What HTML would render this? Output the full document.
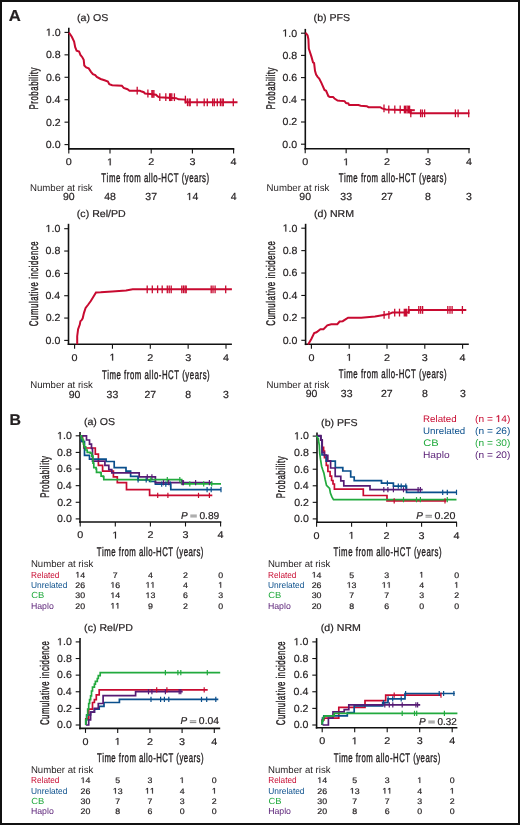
<!DOCTYPE html>
<html><head><meta charset="utf-8"><title>Figure</title>
<style>
html,body{margin:0;padding:0;background:#fff;}
svg{display:block;filter:blur(0.42px);}
svg text{font-family:"Liberation Sans",sans-serif;font-kerning:none;text-rendering:geometricPrecision;}
</style></head><body>
<svg width="520" height="825" viewBox="0 0 520 825">
<rect x="0" y="0" width="520" height="825" fill="#fff"/>
<text x="8.78" y="20.80" font-size="16" fill="#231f20" stroke="#231f20" stroke-width="0.2" font-weight="bold" textLength="12.06" lengthAdjust="spacingAndGlyphs">A</text>
<text x="9.44" y="425.20" font-size="15.5" fill="#231f20" stroke="#231f20" stroke-width="0.2" font-weight="bold" textLength="11.49" lengthAdjust="spacingAndGlyphs">B</text>
<line x1="68.80" y1="27.80" x2="68.80" y2="149.70" stroke="#111" stroke-width="1.6"/>
<line x1="68.00" y1="148.90" x2="234.30" y2="148.90" stroke="#111" stroke-width="1.6"/>
<line x1="64.50" y1="144.60" x2="68.80" y2="144.60" stroke="#111" stroke-width="1.1"/>
<text x="45.87" y="147.95" font-size="10.3" fill="#231f20" stroke="#231f20" stroke-width="0.2" textLength="14.75" lengthAdjust="spacingAndGlyphs">0.0</text>
<line x1="64.50" y1="122.16" x2="68.80" y2="122.16" stroke="#111" stroke-width="1.1"/>
<text x="45.99" y="125.51" font-size="10.3" fill="#231f20" stroke="#231f20" stroke-width="0.2" textLength="14.75" lengthAdjust="spacingAndGlyphs">0.2</text>
<line x1="64.50" y1="99.72" x2="68.80" y2="99.72" stroke="#111" stroke-width="1.1"/>
<text x="45.76" y="103.07" font-size="10.3" fill="#231f20" stroke="#231f20" stroke-width="0.2" textLength="14.75" lengthAdjust="spacingAndGlyphs">0.4</text>
<line x1="64.50" y1="77.28" x2="68.80" y2="77.28" stroke="#111" stroke-width="1.1"/>
<text x="45.92" y="80.63" font-size="10.3" fill="#231f20" stroke="#231f20" stroke-width="0.2" textLength="14.75" lengthAdjust="spacingAndGlyphs">0.6</text>
<line x1="64.50" y1="54.84" x2="68.80" y2="54.84" stroke="#111" stroke-width="1.1"/>
<text x="45.91" y="58.19" font-size="10.3" fill="#231f20" stroke="#231f20" stroke-width="0.2" textLength="14.75" lengthAdjust="spacingAndGlyphs">0.8</text>
<line x1="64.50" y1="32.40" x2="68.80" y2="32.40" stroke="#111" stroke-width="1.1"/>
<text x="45.87" y="35.75" font-size="10.3" fill="#231f20" stroke="#231f20" stroke-width="0.2" textLength="14.75" lengthAdjust="spacingAndGlyphs"> .0</text>
<path transform="translate(45.87,35.75) scale(0.00518,-0.00503)" d="M515,0L515,1237L197,1010L197,1180L530,1409L696,1409L696,0Z" fill="#231f20" stroke="#231f20" stroke-width="39.8"/>
<line x1="68.80" y1="148.90" x2="68.80" y2="153.40" stroke="#111" stroke-width="1.1"/>
<text x="65.80" y="165.30" font-size="9.8" fill="#231f20" stroke="#231f20" stroke-width="0.2" textLength="6.00" lengthAdjust="spacingAndGlyphs">0</text>
<line x1="110.00" y1="148.90" x2="110.00" y2="153.40" stroke="#111" stroke-width="1.1"/>
<text x="107.00" y="165.30" font-size="9.8" fill="#231f20" stroke="#231f20" stroke-width="0.2" textLength="6.00" lengthAdjust="spacingAndGlyphs"> </text>
<path transform="translate(107.00,165.30) scale(0.00526,-0.00479)" d="M515,0L515,1237L197,1010L197,1180L530,1409L696,1409L696,0Z" fill="#231f20" stroke="#231f20" stroke-width="41.8"/>
<line x1="151.20" y1="148.90" x2="151.20" y2="153.40" stroke="#111" stroke-width="1.1"/>
<text x="148.20" y="165.30" font-size="9.8" fill="#231f20" stroke="#231f20" stroke-width="0.2" textLength="6.00" lengthAdjust="spacingAndGlyphs">2</text>
<line x1="192.40" y1="148.90" x2="192.40" y2="153.40" stroke="#111" stroke-width="1.1"/>
<text x="189.40" y="165.30" font-size="9.8" fill="#231f20" stroke="#231f20" stroke-width="0.2" textLength="6.00" lengthAdjust="spacingAndGlyphs">3</text>
<line x1="233.60" y1="148.90" x2="233.60" y2="153.40" stroke="#111" stroke-width="1.1"/>
<text x="230.60" y="165.30" font-size="9.8" fill="#231f20" stroke="#231f20" stroke-width="0.2" textLength="6.00" lengthAdjust="spacingAndGlyphs">4</text>
<line x1="305.30" y1="28.90" x2="305.30" y2="149.60" stroke="#111" stroke-width="1.6"/>
<line x1="304.50" y1="148.80" x2="469.80" y2="148.80" stroke="#111" stroke-width="1.6"/>
<line x1="301.00" y1="144.20" x2="305.30" y2="144.20" stroke="#111" stroke-width="1.1"/>
<text x="282.37" y="147.55" font-size="10.3" fill="#231f20" stroke="#231f20" stroke-width="0.2" textLength="14.75" lengthAdjust="spacingAndGlyphs">0.0</text>
<line x1="301.00" y1="122.00" x2="305.30" y2="122.00" stroke="#111" stroke-width="1.1"/>
<text x="282.49" y="125.35" font-size="10.3" fill="#231f20" stroke="#231f20" stroke-width="0.2" textLength="14.75" lengthAdjust="spacingAndGlyphs">0.2</text>
<line x1="301.00" y1="99.80" x2="305.30" y2="99.80" stroke="#111" stroke-width="1.1"/>
<text x="282.26" y="103.15" font-size="10.3" fill="#231f20" stroke="#231f20" stroke-width="0.2" textLength="14.75" lengthAdjust="spacingAndGlyphs">0.4</text>
<line x1="301.00" y1="77.60" x2="305.30" y2="77.60" stroke="#111" stroke-width="1.1"/>
<text x="282.42" y="80.95" font-size="10.3" fill="#231f20" stroke="#231f20" stroke-width="0.2" textLength="14.75" lengthAdjust="spacingAndGlyphs">0.6</text>
<line x1="301.00" y1="55.40" x2="305.30" y2="55.40" stroke="#111" stroke-width="1.1"/>
<text x="282.41" y="58.75" font-size="10.3" fill="#231f20" stroke="#231f20" stroke-width="0.2" textLength="14.75" lengthAdjust="spacingAndGlyphs">0.8</text>
<line x1="301.00" y1="33.20" x2="305.30" y2="33.20" stroke="#111" stroke-width="1.1"/>
<text x="282.37" y="36.55" font-size="10.3" fill="#231f20" stroke="#231f20" stroke-width="0.2" textLength="14.75" lengthAdjust="spacingAndGlyphs"> .0</text>
<path transform="translate(282.37,36.55) scale(0.00518,-0.00503)" d="M515,0L515,1237L197,1010L197,1180L530,1409L696,1409L696,0Z" fill="#231f20" stroke="#231f20" stroke-width="39.8"/>
<line x1="305.20" y1="148.80" x2="305.20" y2="153.30" stroke="#111" stroke-width="1.1"/>
<text x="302.20" y="165.20" font-size="9.8" fill="#231f20" stroke="#231f20" stroke-width="0.2" textLength="6.00" lengthAdjust="spacingAndGlyphs">0</text>
<line x1="346.15" y1="148.80" x2="346.15" y2="153.30" stroke="#111" stroke-width="1.1"/>
<text x="343.15" y="165.20" font-size="9.8" fill="#231f20" stroke="#231f20" stroke-width="0.2" textLength="6.00" lengthAdjust="spacingAndGlyphs"> </text>
<path transform="translate(343.15,165.20) scale(0.00526,-0.00479)" d="M515,0L515,1237L197,1010L197,1180L530,1409L696,1409L696,0Z" fill="#231f20" stroke="#231f20" stroke-width="41.8"/>
<line x1="387.10" y1="148.80" x2="387.10" y2="153.30" stroke="#111" stroke-width="1.1"/>
<text x="384.10" y="165.20" font-size="9.8" fill="#231f20" stroke="#231f20" stroke-width="0.2" textLength="6.00" lengthAdjust="spacingAndGlyphs">2</text>
<line x1="428.05" y1="148.80" x2="428.05" y2="153.30" stroke="#111" stroke-width="1.1"/>
<text x="425.05" y="165.20" font-size="9.8" fill="#231f20" stroke="#231f20" stroke-width="0.2" textLength="6.00" lengthAdjust="spacingAndGlyphs">3</text>
<line x1="469.00" y1="148.80" x2="469.00" y2="153.30" stroke="#111" stroke-width="1.1"/>
<text x="466.00" y="165.20" font-size="9.8" fill="#231f20" stroke="#231f20" stroke-width="0.2" textLength="6.00" lengthAdjust="spacingAndGlyphs">4</text>
<line x1="68.50" y1="223.80" x2="68.50" y2="345.00" stroke="#111" stroke-width="1.6"/>
<line x1="67.70" y1="344.20" x2="231.90" y2="344.20" stroke="#111" stroke-width="1.6"/>
<line x1="64.20" y1="340.40" x2="68.50" y2="340.40" stroke="#111" stroke-width="1.1"/>
<text x="45.57" y="343.75" font-size="10.3" fill="#231f20" stroke="#231f20" stroke-width="0.2" textLength="14.75" lengthAdjust="spacingAndGlyphs">0.0</text>
<line x1="64.20" y1="318.06" x2="68.50" y2="318.06" stroke="#111" stroke-width="1.1"/>
<text x="45.69" y="321.41" font-size="10.3" fill="#231f20" stroke="#231f20" stroke-width="0.2" textLength="14.75" lengthAdjust="spacingAndGlyphs">0.2</text>
<line x1="64.20" y1="295.72" x2="68.50" y2="295.72" stroke="#111" stroke-width="1.1"/>
<text x="45.46" y="299.07" font-size="10.3" fill="#231f20" stroke="#231f20" stroke-width="0.2" textLength="14.75" lengthAdjust="spacingAndGlyphs">0.4</text>
<line x1="64.20" y1="273.38" x2="68.50" y2="273.38" stroke="#111" stroke-width="1.1"/>
<text x="45.62" y="276.73" font-size="10.3" fill="#231f20" stroke="#231f20" stroke-width="0.2" textLength="14.75" lengthAdjust="spacingAndGlyphs">0.6</text>
<line x1="64.20" y1="251.04" x2="68.50" y2="251.04" stroke="#111" stroke-width="1.1"/>
<text x="45.61" y="254.39" font-size="10.3" fill="#231f20" stroke="#231f20" stroke-width="0.2" textLength="14.75" lengthAdjust="spacingAndGlyphs">0.8</text>
<line x1="64.20" y1="228.70" x2="68.50" y2="228.70" stroke="#111" stroke-width="1.1"/>
<text x="45.57" y="232.05" font-size="10.3" fill="#231f20" stroke="#231f20" stroke-width="0.2" textLength="14.75" lengthAdjust="spacingAndGlyphs"> .0</text>
<path transform="translate(45.57,232.05) scale(0.00518,-0.00503)" d="M515,0L515,1237L197,1010L197,1180L530,1409L696,1409L696,0Z" fill="#231f20" stroke="#231f20" stroke-width="39.8"/>
<line x1="74.60" y1="344.20" x2="74.60" y2="348.70" stroke="#111" stroke-width="1.1"/>
<text x="71.60" y="360.60" font-size="9.8" fill="#231f20" stroke="#231f20" stroke-width="0.2" textLength="6.00" lengthAdjust="spacingAndGlyphs">0</text>
<line x1="112.45" y1="344.20" x2="112.45" y2="348.70" stroke="#111" stroke-width="1.1"/>
<text x="109.45" y="360.60" font-size="9.8" fill="#231f20" stroke="#231f20" stroke-width="0.2" textLength="6.00" lengthAdjust="spacingAndGlyphs"> </text>
<path transform="translate(109.45,360.60) scale(0.00526,-0.00479)" d="M515,0L515,1237L197,1010L197,1180L530,1409L696,1409L696,0Z" fill="#231f20" stroke="#231f20" stroke-width="41.8"/>
<line x1="150.30" y1="344.20" x2="150.30" y2="348.70" stroke="#111" stroke-width="1.1"/>
<text x="147.30" y="360.60" font-size="9.8" fill="#231f20" stroke="#231f20" stroke-width="0.2" textLength="6.00" lengthAdjust="spacingAndGlyphs">2</text>
<line x1="188.15" y1="344.20" x2="188.15" y2="348.70" stroke="#111" stroke-width="1.1"/>
<text x="185.15" y="360.60" font-size="9.8" fill="#231f20" stroke="#231f20" stroke-width="0.2" textLength="6.00" lengthAdjust="spacingAndGlyphs">3</text>
<line x1="226.00" y1="344.20" x2="226.00" y2="348.70" stroke="#111" stroke-width="1.1"/>
<text x="223.00" y="360.60" font-size="9.8" fill="#231f20" stroke="#231f20" stroke-width="0.2" textLength="6.00" lengthAdjust="spacingAndGlyphs">4</text>
<line x1="305.60" y1="223.80" x2="305.60" y2="345.10" stroke="#111" stroke-width="1.6"/>
<line x1="304.80" y1="344.30" x2="468.80" y2="344.30" stroke="#111" stroke-width="1.6"/>
<line x1="301.30" y1="340.30" x2="305.60" y2="340.30" stroke="#111" stroke-width="1.1"/>
<text x="282.67" y="343.65" font-size="10.3" fill="#231f20" stroke="#231f20" stroke-width="0.2" textLength="14.75" lengthAdjust="spacingAndGlyphs">0.0</text>
<line x1="301.30" y1="317.88" x2="305.60" y2="317.88" stroke="#111" stroke-width="1.1"/>
<text x="282.79" y="321.23" font-size="10.3" fill="#231f20" stroke="#231f20" stroke-width="0.2" textLength="14.75" lengthAdjust="spacingAndGlyphs">0.2</text>
<line x1="301.30" y1="295.46" x2="305.60" y2="295.46" stroke="#111" stroke-width="1.1"/>
<text x="282.56" y="298.81" font-size="10.3" fill="#231f20" stroke="#231f20" stroke-width="0.2" textLength="14.75" lengthAdjust="spacingAndGlyphs">0.4</text>
<line x1="301.30" y1="273.04" x2="305.60" y2="273.04" stroke="#111" stroke-width="1.1"/>
<text x="282.72" y="276.39" font-size="10.3" fill="#231f20" stroke="#231f20" stroke-width="0.2" textLength="14.75" lengthAdjust="spacingAndGlyphs">0.6</text>
<line x1="301.30" y1="250.62" x2="305.60" y2="250.62" stroke="#111" stroke-width="1.1"/>
<text x="282.71" y="253.97" font-size="10.3" fill="#231f20" stroke="#231f20" stroke-width="0.2" textLength="14.75" lengthAdjust="spacingAndGlyphs">0.8</text>
<line x1="301.30" y1="228.20" x2="305.60" y2="228.20" stroke="#111" stroke-width="1.1"/>
<text x="282.67" y="231.55" font-size="10.3" fill="#231f20" stroke="#231f20" stroke-width="0.2" textLength="14.75" lengthAdjust="spacingAndGlyphs"> .0</text>
<path transform="translate(282.67,231.55) scale(0.00518,-0.00503)" d="M515,0L515,1237L197,1010L197,1180L530,1409L696,1409L696,0Z" fill="#231f20" stroke="#231f20" stroke-width="39.8"/>
<line x1="311.40" y1="344.30" x2="311.40" y2="348.80" stroke="#111" stroke-width="1.1"/>
<text x="308.40" y="360.70" font-size="9.8" fill="#231f20" stroke="#231f20" stroke-width="0.2" textLength="6.00" lengthAdjust="spacingAndGlyphs">0</text>
<line x1="349.20" y1="344.30" x2="349.20" y2="348.80" stroke="#111" stroke-width="1.1"/>
<text x="346.20" y="360.70" font-size="9.8" fill="#231f20" stroke="#231f20" stroke-width="0.2" textLength="6.00" lengthAdjust="spacingAndGlyphs"> </text>
<path transform="translate(346.20,360.70) scale(0.00526,-0.00479)" d="M515,0L515,1237L197,1010L197,1180L530,1409L696,1409L696,0Z" fill="#231f20" stroke="#231f20" stroke-width="41.8"/>
<line x1="387.00" y1="344.30" x2="387.00" y2="348.80" stroke="#111" stroke-width="1.1"/>
<text x="384.00" y="360.70" font-size="9.8" fill="#231f20" stroke="#231f20" stroke-width="0.2" textLength="6.00" lengthAdjust="spacingAndGlyphs">2</text>
<line x1="424.80" y1="344.30" x2="424.80" y2="348.80" stroke="#111" stroke-width="1.1"/>
<text x="421.80" y="360.70" font-size="9.8" fill="#231f20" stroke="#231f20" stroke-width="0.2" textLength="6.00" lengthAdjust="spacingAndGlyphs">3</text>
<line x1="462.60" y1="344.30" x2="462.60" y2="348.80" stroke="#111" stroke-width="1.1"/>
<text x="459.60" y="360.70" font-size="9.8" fill="#231f20" stroke="#231f20" stroke-width="0.2" textLength="6.00" lengthAdjust="spacingAndGlyphs">4</text>
<text x="77.04" y="21.00" font-size="10" fill="#231f20" stroke="#231f20" stroke-width="0.2" textLength="31.22" lengthAdjust="spacingAndGlyphs">(a) OS</text>
<text x="313.64" y="21.20" font-size="10" fill="#231f20" stroke="#231f20" stroke-width="0.2" textLength="36.52" lengthAdjust="spacingAndGlyphs">(b) PFS</text>
<text x="76.84" y="216.70" font-size="10" fill="#231f20" stroke="#231f20" stroke-width="0.2" textLength="48.88" lengthAdjust="spacingAndGlyphs">(c) Rel/PD</text>
<text x="314.04" y="216.90" font-size="10" fill="#231f20" stroke="#231f20" stroke-width="0.2" textLength="40.04" lengthAdjust="spacingAndGlyphs">(d) NRM</text>
<text transform="translate(101.32,182.30) scale(0.62,1)" x="0" y="0" font-size="12.6" fill="#231f20" stroke="#231f20" stroke-width="0.4" textLength="173.82" lengthAdjust="spacing">Time from allo-HCT (years)</text>
<text transform="translate(338.72,182.30) scale(0.62,1)" x="0" y="0" font-size="12.6" fill="#231f20" stroke="#231f20" stroke-width="0.4" textLength="173.82" lengthAdjust="spacing">Time from allo-HCT (years)</text>
<text transform="translate(101.92,378.60) scale(0.62,1)" x="0" y="0" font-size="12.6" fill="#231f20" stroke="#231f20" stroke-width="0.4" textLength="173.82" lengthAdjust="spacing">Time from allo-HCT (years)</text>
<text transform="translate(338.72,377.90) scale(0.62,1)" x="0" y="0" font-size="12.6" fill="#231f20" stroke="#231f20" stroke-width="0.4" textLength="173.82" lengthAdjust="spacing">Time from allo-HCT (years)</text>
<text transform="translate(37.60,109.39) rotate(-90) scale(0.62,1)" x="0" y="0" font-size="12.6" fill="#231f20" stroke="#231f20" stroke-width="0.4" textLength="67.49" lengthAdjust="spacing">Probability</text>
<text transform="translate(274.60,109.49) rotate(-90) scale(0.62,1)" x="0" y="0" font-size="12.6" fill="#231f20" stroke="#231f20" stroke-width="0.4" textLength="67.49" lengthAdjust="spacing">Probability</text>
<text transform="translate(37.70,326.15) rotate(-90) scale(0.62,1)" x="0" y="0" font-size="12.6" fill="#231f20" stroke="#231f20" stroke-width="0.4" textLength="136.73" lengthAdjust="spacing">Cumulative incidence</text>
<text transform="translate(274.50,325.75) rotate(-90) scale(0.62,1)" x="0" y="0" font-size="12.6" fill="#231f20" stroke="#231f20" stroke-width="0.4" textLength="136.39" lengthAdjust="spacing">Cumulative incidence</text>
<text x="30.01" y="190.60" font-size="9.8" fill="#231f20" textLength="62.68" lengthAdjust="spacingAndGlyphs">Number at risk</text>
<text x="266.61" y="190.60" font-size="9.8" fill="#231f20" textLength="62.68" lengthAdjust="spacingAndGlyphs">Number at risk</text>
<text x="30.21" y="388.10" font-size="9.8" fill="#231f20" textLength="62.68" lengthAdjust="spacingAndGlyphs">Number at risk</text>
<text x="266.61" y="387.50" font-size="9.8" fill="#231f20" textLength="62.68" lengthAdjust="spacingAndGlyphs">Number at risk</text>
<text x="62.96" y="200.00" font-size="10.3" fill="#231f20" stroke="#231f20" stroke-width="0.2" textLength="11.69" lengthAdjust="spacingAndGlyphs">90</text>
<text x="104.16" y="200.00" font-size="10.3" fill="#231f20" stroke="#231f20" stroke-width="0.2" textLength="11.69" lengthAdjust="spacingAndGlyphs">48</text>
<text x="145.36" y="200.00" font-size="10.3" fill="#231f20" stroke="#231f20" stroke-width="0.2" textLength="11.69" lengthAdjust="spacingAndGlyphs">37</text>
<text x="186.56" y="200.00" font-size="10.3" fill="#231f20" stroke="#231f20" stroke-width="0.2" textLength="11.69" lengthAdjust="spacingAndGlyphs"> 4</text>
<path transform="translate(186.56,200.00) scale(0.00513,-0.00503)" d="M515,0L515,1237L197,1010L197,1180L530,1409L696,1409L696,0Z" fill="#231f20" stroke="#231f20" stroke-width="39.8"/>
<text x="230.68" y="200.00" font-size="10.3" fill="#231f20" stroke="#231f20" stroke-width="0.2" textLength="5.84" lengthAdjust="spacingAndGlyphs">4</text>
<text x="299.36" y="200.00" font-size="10.3" fill="#231f20" stroke="#231f20" stroke-width="0.2" textLength="11.69" lengthAdjust="spacingAndGlyphs">90</text>
<text x="340.31" y="200.00" font-size="10.3" fill="#231f20" stroke="#231f20" stroke-width="0.2" textLength="11.69" lengthAdjust="spacingAndGlyphs">33</text>
<text x="381.26" y="200.00" font-size="10.3" fill="#231f20" stroke="#231f20" stroke-width="0.2" textLength="11.69" lengthAdjust="spacingAndGlyphs">27</text>
<text x="425.13" y="200.00" font-size="10.3" fill="#231f20" stroke="#231f20" stroke-width="0.2" textLength="5.84" lengthAdjust="spacingAndGlyphs">8</text>
<text x="466.08" y="200.00" font-size="10.3" fill="#231f20" stroke="#231f20" stroke-width="0.2" textLength="5.84" lengthAdjust="spacingAndGlyphs">3</text>
<text x="68.76" y="397.70" font-size="10.3" fill="#231f20" stroke="#231f20" stroke-width="0.2" textLength="11.69" lengthAdjust="spacingAndGlyphs">90</text>
<text x="106.61" y="397.70" font-size="10.3" fill="#231f20" stroke="#231f20" stroke-width="0.2" textLength="11.69" lengthAdjust="spacingAndGlyphs">33</text>
<text x="144.46" y="397.70" font-size="10.3" fill="#231f20" stroke="#231f20" stroke-width="0.2" textLength="11.69" lengthAdjust="spacingAndGlyphs">27</text>
<text x="185.23" y="397.70" font-size="10.3" fill="#231f20" stroke="#231f20" stroke-width="0.2" textLength="5.84" lengthAdjust="spacingAndGlyphs">8</text>
<text x="223.08" y="397.70" font-size="10.3" fill="#231f20" stroke="#231f20" stroke-width="0.2" textLength="5.84" lengthAdjust="spacingAndGlyphs">3</text>
<text x="305.76" y="397.00" font-size="10.3" fill="#231f20" stroke="#231f20" stroke-width="0.2" textLength="11.69" lengthAdjust="spacingAndGlyphs">90</text>
<text x="340.86" y="397.00" font-size="10.3" fill="#231f20" stroke="#231f20" stroke-width="0.2" textLength="11.69" lengthAdjust="spacingAndGlyphs">33</text>
<text x="380.96" y="397.00" font-size="10.3" fill="#231f20" stroke="#231f20" stroke-width="0.2" textLength="11.69" lengthAdjust="spacingAndGlyphs">27</text>
<text x="421.98" y="397.00" font-size="10.3" fill="#231f20" stroke="#231f20" stroke-width="0.2" textLength="5.84" lengthAdjust="spacingAndGlyphs">8</text>
<text x="459.98" y="397.00" font-size="10.3" fill="#231f20" stroke="#231f20" stroke-width="0.2" textLength="5.84" lengthAdjust="spacingAndGlyphs">3</text>
<polyline points="68.80,32.60 69.50,33.40 71.80,36.70 74.10,41.50 75.20,47.20 76.60,50.70 79.10,51.50 80.40,54.90 82.30,57.20 83.70,59.70 84.30,65.50 86.20,67.40 88.70,68.40 91.00,71.80 92.90,74.20 95.20,75.10 96.80,77.00 100.60,79.00 104.50,80.30 107.90,81.50 109.30,84.20 112.20,85.30 121.80,85.70 123.70,88.00 127.50,89.20 129.50,90.70 139.80,90.70 141.00,91.20 143.80,92.20 145.00,93.50 150.20,93.90 156.00,94.70 157.70,96.40 159.40,97.20 176.20,98.20 178.50,99.30 185.40,99.60 185.60,102.30 237.50,102.30" fill="none" stroke="#c80a30" stroke-width="2.0" stroke-linejoin="miter" stroke-linecap="butt"/>
<line x1="137.20" y1="86.80" x2="137.20" y2="94.60" stroke="#c80a30" stroke-width="1.3"/>
<line x1="147.90" y1="89.60" x2="147.90" y2="97.40" stroke="#c80a30" stroke-width="1.3"/>
<line x1="151.90" y1="90.00" x2="151.90" y2="97.80" stroke="#c80a30" stroke-width="1.3"/>
<line x1="152.80" y1="90.00" x2="152.80" y2="97.80" stroke="#c80a30" stroke-width="1.3"/>
<line x1="153.90" y1="90.00" x2="153.90" y2="97.80" stroke="#c80a30" stroke-width="1.3"/>
<line x1="159.80" y1="93.30" x2="159.80" y2="101.10" stroke="#c80a30" stroke-width="1.3"/>
<line x1="165.80" y1="93.30" x2="165.80" y2="101.10" stroke="#c80a30" stroke-width="1.3"/>
<line x1="169.60" y1="93.30" x2="169.60" y2="101.10" stroke="#c80a30" stroke-width="1.3"/>
<line x1="170.60" y1="93.30" x2="170.60" y2="101.10" stroke="#c80a30" stroke-width="1.3"/>
<line x1="171.80" y1="93.30" x2="171.80" y2="101.10" stroke="#c80a30" stroke-width="1.3"/>
<line x1="174.40" y1="93.30" x2="174.40" y2="101.10" stroke="#c80a30" stroke-width="1.3"/>
<line x1="185.40" y1="95.70" x2="185.40" y2="103.50" stroke="#c80a30" stroke-width="1.3"/>
<line x1="187.50" y1="98.40" x2="187.50" y2="106.20" stroke="#c80a30" stroke-width="1.3"/>
<line x1="189.20" y1="98.40" x2="189.20" y2="106.20" stroke="#c80a30" stroke-width="1.3"/>
<line x1="190.20" y1="98.40" x2="190.20" y2="106.20" stroke="#c80a30" stroke-width="1.3"/>
<line x1="197.10" y1="98.40" x2="197.10" y2="106.20" stroke="#c80a30" stroke-width="1.3"/>
<line x1="204.20" y1="98.40" x2="204.20" y2="106.20" stroke="#c80a30" stroke-width="1.3"/>
<line x1="207.30" y1="98.40" x2="207.30" y2="106.20" stroke="#c80a30" stroke-width="1.3"/>
<line x1="212.70" y1="98.40" x2="212.70" y2="106.20" stroke="#c80a30" stroke-width="1.3"/>
<line x1="214.30" y1="98.40" x2="214.30" y2="106.20" stroke="#c80a30" stroke-width="1.3"/>
<line x1="217.30" y1="98.40" x2="217.30" y2="106.20" stroke="#c80a30" stroke-width="1.3"/>
<line x1="220.40" y1="98.40" x2="220.40" y2="106.20" stroke="#c80a30" stroke-width="1.3"/>
<line x1="222.10" y1="98.40" x2="222.10" y2="106.20" stroke="#c80a30" stroke-width="1.3"/>
<line x1="223.30" y1="98.40" x2="223.30" y2="106.20" stroke="#c80a30" stroke-width="1.3"/>
<line x1="233.30" y1="98.40" x2="233.30" y2="106.20" stroke="#c80a30" stroke-width="1.3"/>
<polyline points="305.30,33.20 306.10,33.40 307.60,35.40 308.40,39.20 308.80,48.50 311.50,56.90 313.00,62.30 314.10,63.10 315.00,70.80 316.10,74.60 317.60,76.90 319.20,78.50 321.50,83.10 324.50,90.00 326.10,90.80 328.40,96.20 329.90,96.90 333.00,96.90 334.50,98.50 337.60,100.50 339.90,100.80 344.50,101.10 346.10,103.10 348.40,103.50 349.20,105.10 358.40,105.10 360.70,105.70 366.80,106.20 368.40,107.20 380.20,107.20 382.00,108.40 386.00,109.50 410.60,110.20 410.80,113.30 469.50,113.30" fill="none" stroke="#c80a30" stroke-width="2.0" stroke-linejoin="miter" stroke-linecap="butt"/>
<line x1="409.00" y1="110.20" x2="414.80" y2="110.20" stroke="#c80a30" stroke-width="2.0"/>
<line x1="384.00" y1="104.50" x2="384.00" y2="112.30" stroke="#c80a30" stroke-width="1.3"/>
<line x1="388.80" y1="105.60" x2="388.80" y2="113.40" stroke="#c80a30" stroke-width="1.3"/>
<line x1="394.80" y1="105.60" x2="394.80" y2="113.40" stroke="#c80a30" stroke-width="1.3"/>
<line x1="400.20" y1="105.60" x2="400.20" y2="113.40" stroke="#c80a30" stroke-width="1.3"/>
<line x1="404.40" y1="105.60" x2="404.40" y2="113.40" stroke="#c80a30" stroke-width="1.3"/>
<line x1="405.60" y1="105.60" x2="405.60" y2="113.40" stroke="#c80a30" stroke-width="1.3"/>
<line x1="407.10" y1="105.60" x2="407.10" y2="113.40" stroke="#c80a30" stroke-width="1.3"/>
<line x1="408.50" y1="105.60" x2="408.50" y2="113.40" stroke="#c80a30" stroke-width="1.3"/>
<line x1="409.60" y1="105.60" x2="409.60" y2="113.40" stroke="#c80a30" stroke-width="1.3"/>
<line x1="410.80" y1="109.40" x2="410.80" y2="117.20" stroke="#c80a30" stroke-width="1.3"/>
<line x1="420.60" y1="109.40" x2="420.60" y2="117.20" stroke="#c80a30" stroke-width="1.3"/>
<line x1="422.30" y1="109.40" x2="422.30" y2="117.20" stroke="#c80a30" stroke-width="1.3"/>
<line x1="424.60" y1="109.40" x2="424.60" y2="117.20" stroke="#c80a30" stroke-width="1.3"/>
<line x1="455.40" y1="109.40" x2="455.40" y2="117.20" stroke="#c80a30" stroke-width="1.3"/>
<line x1="458.10" y1="109.40" x2="458.10" y2="117.20" stroke="#c80a30" stroke-width="1.3"/>
<line x1="468.70" y1="109.40" x2="468.70" y2="117.20" stroke="#c80a30" stroke-width="1.3"/>
<polyline points="77.20,344.20 77.20,336.20 78.10,329.20 79.80,324.60 80.40,321.20 81.60,320.20 82.70,318.30 83.90,313.10 85.60,307.90 87.90,305.00 90.80,301.00 93.70,296.30 96.00,292.50 100.60,292.30 112.20,291.40 126.00,290.60 132.70,289.30 231.90,289.30" fill="none" stroke="#c80a30" stroke-width="2.0" stroke-linejoin="miter" stroke-linecap="butt"/>
<line x1="147.20" y1="285.40" x2="147.20" y2="293.20" stroke="#c80a30" stroke-width="1.3"/>
<line x1="152.30" y1="285.40" x2="152.30" y2="293.20" stroke="#c80a30" stroke-width="1.3"/>
<line x1="157.60" y1="285.40" x2="157.60" y2="293.20" stroke="#c80a30" stroke-width="1.3"/>
<line x1="162.20" y1="285.40" x2="162.20" y2="293.20" stroke="#c80a30" stroke-width="1.3"/>
<line x1="167.30" y1="285.40" x2="167.30" y2="293.20" stroke="#c80a30" stroke-width="1.3"/>
<line x1="169.20" y1="285.40" x2="169.20" y2="293.20" stroke="#c80a30" stroke-width="1.3"/>
<line x1="171.20" y1="285.40" x2="171.20" y2="293.20" stroke="#c80a30" stroke-width="1.3"/>
<line x1="181.80" y1="285.40" x2="181.80" y2="293.20" stroke="#c80a30" stroke-width="1.3"/>
<line x1="183.50" y1="285.40" x2="183.50" y2="293.20" stroke="#c80a30" stroke-width="1.3"/>
<line x1="185.10" y1="285.40" x2="185.10" y2="293.20" stroke="#c80a30" stroke-width="1.3"/>
<line x1="186.20" y1="285.40" x2="186.20" y2="293.20" stroke="#c80a30" stroke-width="1.3"/>
<line x1="211.20" y1="285.40" x2="211.20" y2="293.20" stroke="#c80a30" stroke-width="1.3"/>
<line x1="213.00" y1="285.40" x2="213.00" y2="293.20" stroke="#c80a30" stroke-width="1.3"/>
<line x1="215.10" y1="285.40" x2="215.10" y2="293.20" stroke="#c80a30" stroke-width="1.3"/>
<line x1="225.70" y1="285.40" x2="225.70" y2="293.20" stroke="#c80a30" stroke-width="1.3"/>
<polyline points="308.10,344.40 311.20,339.20 314.20,333.10 316.50,332.30 320.40,329.20 323.50,329.20 327.30,325.40 331.20,324.20 337.30,324.20 339.60,321.50 342.70,321.20 348.10,317.70 361.20,317.70 375.00,316.40 383.70,314.90 389.40,313.90 392.30,312.60 408.70,312.50 408.80,309.90 466.30,309.90" fill="none" stroke="#c80a30" stroke-width="2.0" stroke-linejoin="miter" stroke-linecap="butt"/>
<line x1="384.10" y1="311.00" x2="384.10" y2="318.80" stroke="#c80a30" stroke-width="1.3"/>
<line x1="388.90" y1="311.00" x2="388.90" y2="318.80" stroke="#c80a30" stroke-width="1.3"/>
<line x1="394.70" y1="308.70" x2="394.70" y2="316.50" stroke="#c80a30" stroke-width="1.3"/>
<line x1="399.50" y1="308.70" x2="399.50" y2="316.50" stroke="#c80a30" stroke-width="1.3"/>
<line x1="404.30" y1="308.70" x2="404.30" y2="316.50" stroke="#c80a30" stroke-width="1.3"/>
<line x1="405.60" y1="308.70" x2="405.60" y2="316.50" stroke="#c80a30" stroke-width="1.3"/>
<line x1="406.70" y1="308.70" x2="406.70" y2="316.50" stroke="#c80a30" stroke-width="1.3"/>
<line x1="408.80" y1="306.00" x2="408.80" y2="313.80" stroke="#c80a30" stroke-width="1.3"/>
<line x1="418.80" y1="306.00" x2="418.80" y2="313.80" stroke="#c80a30" stroke-width="1.3"/>
<line x1="420.70" y1="306.00" x2="420.70" y2="313.80" stroke="#c80a30" stroke-width="1.3"/>
<line x1="422.60" y1="306.00" x2="422.60" y2="313.80" stroke="#c80a30" stroke-width="1.3"/>
<line x1="447.80" y1="306.00" x2="447.80" y2="313.80" stroke="#c80a30" stroke-width="1.3"/>
<line x1="450.00" y1="306.00" x2="450.00" y2="313.80" stroke="#c80a30" stroke-width="1.3"/>
<line x1="452.10" y1="306.00" x2="452.10" y2="313.80" stroke="#c80a30" stroke-width="1.3"/>
<line x1="462.40" y1="306.00" x2="462.40" y2="313.80" stroke="#c80a30" stroke-width="1.3"/>
<line x1="80.00" y1="432.00" x2="80.00" y2="522.80" stroke="#111" stroke-width="1.6"/>
<line x1="79.20" y1="522.00" x2="221.30" y2="522.00" stroke="#111" stroke-width="1.6"/>
<line x1="75.70" y1="518.90" x2="80.00" y2="518.90" stroke="#111" stroke-width="1.1"/>
<text x="57.07" y="522.25" font-size="10.3" fill="#231f20" stroke="#231f20" stroke-width="0.2" textLength="14.75" lengthAdjust="spacingAndGlyphs">0.0</text>
<line x1="75.70" y1="502.28" x2="80.00" y2="502.28" stroke="#111" stroke-width="1.1"/>
<text x="57.19" y="505.63" font-size="10.3" fill="#231f20" stroke="#231f20" stroke-width="0.2" textLength="14.75" lengthAdjust="spacingAndGlyphs">0.2</text>
<line x1="75.70" y1="485.66" x2="80.00" y2="485.66" stroke="#111" stroke-width="1.1"/>
<text x="56.96" y="489.01" font-size="10.3" fill="#231f20" stroke="#231f20" stroke-width="0.2" textLength="14.75" lengthAdjust="spacingAndGlyphs">0.4</text>
<line x1="75.70" y1="469.04" x2="80.00" y2="469.04" stroke="#111" stroke-width="1.1"/>
<text x="57.12" y="472.39" font-size="10.3" fill="#231f20" stroke="#231f20" stroke-width="0.2" textLength="14.75" lengthAdjust="spacingAndGlyphs">0.6</text>
<line x1="75.70" y1="452.42" x2="80.00" y2="452.42" stroke="#111" stroke-width="1.1"/>
<text x="57.11" y="455.77" font-size="10.3" fill="#231f20" stroke="#231f20" stroke-width="0.2" textLength="14.75" lengthAdjust="spacingAndGlyphs">0.8</text>
<line x1="75.70" y1="435.80" x2="80.00" y2="435.80" stroke="#111" stroke-width="1.1"/>
<text x="57.07" y="439.15" font-size="10.3" fill="#231f20" stroke="#231f20" stroke-width="0.2" textLength="14.75" lengthAdjust="spacingAndGlyphs"> .0</text>
<path transform="translate(57.07,439.15) scale(0.00518,-0.00503)" d="M515,0L515,1237L197,1010L197,1180L530,1409L696,1409L696,0Z" fill="#231f20" stroke="#231f20" stroke-width="39.8"/>
<line x1="80.20" y1="522.00" x2="80.20" y2="526.50" stroke="#111" stroke-width="1.1"/>
<text x="77.20" y="538.40" font-size="9.8" fill="#231f20" stroke="#231f20" stroke-width="0.2" textLength="6.00" lengthAdjust="spacingAndGlyphs">0</text>
<line x1="115.30" y1="522.00" x2="115.30" y2="526.50" stroke="#111" stroke-width="1.1"/>
<text x="112.30" y="538.40" font-size="9.8" fill="#231f20" stroke="#231f20" stroke-width="0.2" textLength="6.00" lengthAdjust="spacingAndGlyphs"> </text>
<path transform="translate(112.30,538.40) scale(0.00526,-0.00479)" d="M515,0L515,1237L197,1010L197,1180L530,1409L696,1409L696,0Z" fill="#231f20" stroke="#231f20" stroke-width="41.8"/>
<line x1="150.40" y1="522.00" x2="150.40" y2="526.50" stroke="#111" stroke-width="1.1"/>
<text x="147.40" y="538.40" font-size="9.8" fill="#231f20" stroke="#231f20" stroke-width="0.2" textLength="6.00" lengthAdjust="spacingAndGlyphs">2</text>
<line x1="185.50" y1="522.00" x2="185.50" y2="526.50" stroke="#111" stroke-width="1.1"/>
<text x="182.50" y="538.40" font-size="9.8" fill="#231f20" stroke="#231f20" stroke-width="0.2" textLength="6.00" lengthAdjust="spacingAndGlyphs">3</text>
<line x1="220.60" y1="522.00" x2="220.60" y2="526.50" stroke="#111" stroke-width="1.1"/>
<text x="217.60" y="538.40" font-size="9.8" fill="#231f20" stroke="#231f20" stroke-width="0.2" textLength="6.00" lengthAdjust="spacingAndGlyphs">4</text>
<line x1="317.00" y1="432.40" x2="317.00" y2="523.10" stroke="#111" stroke-width="1.6"/>
<line x1="316.20" y1="522.30" x2="457.00" y2="522.30" stroke="#111" stroke-width="1.6"/>
<line x1="312.70" y1="518.90" x2="317.00" y2="518.90" stroke="#111" stroke-width="1.1"/>
<text x="294.07" y="522.25" font-size="10.3" fill="#231f20" stroke="#231f20" stroke-width="0.2" textLength="14.75" lengthAdjust="spacingAndGlyphs">0.0</text>
<line x1="312.70" y1="502.34" x2="317.00" y2="502.34" stroke="#111" stroke-width="1.1"/>
<text x="294.19" y="505.69" font-size="10.3" fill="#231f20" stroke="#231f20" stroke-width="0.2" textLength="14.75" lengthAdjust="spacingAndGlyphs">0.2</text>
<line x1="312.70" y1="485.78" x2="317.00" y2="485.78" stroke="#111" stroke-width="1.1"/>
<text x="293.96" y="489.13" font-size="10.3" fill="#231f20" stroke="#231f20" stroke-width="0.2" textLength="14.75" lengthAdjust="spacingAndGlyphs">0.4</text>
<line x1="312.70" y1="469.22" x2="317.00" y2="469.22" stroke="#111" stroke-width="1.1"/>
<text x="294.12" y="472.57" font-size="10.3" fill="#231f20" stroke="#231f20" stroke-width="0.2" textLength="14.75" lengthAdjust="spacingAndGlyphs">0.6</text>
<line x1="312.70" y1="452.66" x2="317.00" y2="452.66" stroke="#111" stroke-width="1.1"/>
<text x="294.11" y="456.01" font-size="10.3" fill="#231f20" stroke="#231f20" stroke-width="0.2" textLength="14.75" lengthAdjust="spacingAndGlyphs">0.8</text>
<line x1="312.70" y1="436.10" x2="317.00" y2="436.10" stroke="#111" stroke-width="1.1"/>
<text x="294.07" y="439.45" font-size="10.3" fill="#231f20" stroke="#231f20" stroke-width="0.2" textLength="14.75" lengthAdjust="spacingAndGlyphs"> .0</text>
<path transform="translate(294.07,439.45) scale(0.00518,-0.00503)" d="M515,0L515,1237L197,1010L197,1180L530,1409L696,1409L696,0Z" fill="#231f20" stroke="#231f20" stroke-width="39.8"/>
<line x1="316.60" y1="522.30" x2="316.60" y2="526.80" stroke="#111" stroke-width="1.1"/>
<text x="313.60" y="538.70" font-size="9.8" fill="#231f20" stroke="#231f20" stroke-width="0.2" textLength="6.00" lengthAdjust="spacingAndGlyphs">0</text>
<line x1="351.60" y1="522.30" x2="351.60" y2="526.80" stroke="#111" stroke-width="1.1"/>
<text x="348.60" y="538.70" font-size="9.8" fill="#231f20" stroke="#231f20" stroke-width="0.2" textLength="6.00" lengthAdjust="spacingAndGlyphs"> </text>
<path transform="translate(348.60,538.70) scale(0.00526,-0.00479)" d="M515,0L515,1237L197,1010L197,1180L530,1409L696,1409L696,0Z" fill="#231f20" stroke="#231f20" stroke-width="41.8"/>
<line x1="386.60" y1="522.30" x2="386.60" y2="526.80" stroke="#111" stroke-width="1.1"/>
<text x="383.60" y="538.70" font-size="9.8" fill="#231f20" stroke="#231f20" stroke-width="0.2" textLength="6.00" lengthAdjust="spacingAndGlyphs">2</text>
<line x1="421.60" y1="522.30" x2="421.60" y2="526.80" stroke="#111" stroke-width="1.1"/>
<text x="418.60" y="538.70" font-size="9.8" fill="#231f20" stroke="#231f20" stroke-width="0.2" textLength="6.00" lengthAdjust="spacingAndGlyphs">3</text>
<line x1="456.60" y1="522.30" x2="456.60" y2="526.80" stroke="#111" stroke-width="1.1"/>
<text x="453.60" y="538.70" font-size="9.8" fill="#231f20" stroke="#231f20" stroke-width="0.2" textLength="6.00" lengthAdjust="spacingAndGlyphs">4</text>
<line x1="80.00" y1="638.10" x2="80.00" y2="729.20" stroke="#111" stroke-width="1.6"/>
<line x1="79.20" y1="728.40" x2="220.20" y2="728.40" stroke="#111" stroke-width="1.6"/>
<line x1="75.70" y1="725.00" x2="80.00" y2="725.00" stroke="#111" stroke-width="1.1"/>
<text x="57.07" y="728.35" font-size="10.3" fill="#231f20" stroke="#231f20" stroke-width="0.2" textLength="14.75" lengthAdjust="spacingAndGlyphs">0.0</text>
<line x1="75.70" y1="708.38" x2="80.00" y2="708.38" stroke="#111" stroke-width="1.1"/>
<text x="57.19" y="711.73" font-size="10.3" fill="#231f20" stroke="#231f20" stroke-width="0.2" textLength="14.75" lengthAdjust="spacingAndGlyphs">0.2</text>
<line x1="75.70" y1="691.76" x2="80.00" y2="691.76" stroke="#111" stroke-width="1.1"/>
<text x="56.96" y="695.11" font-size="10.3" fill="#231f20" stroke="#231f20" stroke-width="0.2" textLength="14.75" lengthAdjust="spacingAndGlyphs">0.4</text>
<line x1="75.70" y1="675.14" x2="80.00" y2="675.14" stroke="#111" stroke-width="1.1"/>
<text x="57.12" y="678.49" font-size="10.3" fill="#231f20" stroke="#231f20" stroke-width="0.2" textLength="14.75" lengthAdjust="spacingAndGlyphs">0.6</text>
<line x1="75.70" y1="658.52" x2="80.00" y2="658.52" stroke="#111" stroke-width="1.1"/>
<text x="57.11" y="661.87" font-size="10.3" fill="#231f20" stroke="#231f20" stroke-width="0.2" textLength="14.75" lengthAdjust="spacingAndGlyphs">0.8</text>
<line x1="75.70" y1="641.90" x2="80.00" y2="641.90" stroke="#111" stroke-width="1.1"/>
<text x="57.07" y="645.25" font-size="10.3" fill="#231f20" stroke="#231f20" stroke-width="0.2" textLength="14.75" lengthAdjust="spacingAndGlyphs"> .0</text>
<path transform="translate(57.07,645.25) scale(0.00518,-0.00503)" d="M515,0L515,1237L197,1010L197,1180L530,1409L696,1409L696,0Z" fill="#231f20" stroke="#231f20" stroke-width="39.8"/>
<line x1="85.50" y1="728.40" x2="85.50" y2="732.90" stroke="#111" stroke-width="1.1"/>
<text x="82.50" y="744.80" font-size="9.8" fill="#231f20" stroke="#231f20" stroke-width="0.2" textLength="6.00" lengthAdjust="spacingAndGlyphs">0</text>
<line x1="117.70" y1="728.40" x2="117.70" y2="732.90" stroke="#111" stroke-width="1.1"/>
<text x="114.70" y="744.80" font-size="9.8" fill="#231f20" stroke="#231f20" stroke-width="0.2" textLength="6.00" lengthAdjust="spacingAndGlyphs"> </text>
<path transform="translate(114.70,744.80) scale(0.00526,-0.00479)" d="M515,0L515,1237L197,1010L197,1180L530,1409L696,1409L696,0Z" fill="#231f20" stroke="#231f20" stroke-width="41.8"/>
<line x1="149.90" y1="728.40" x2="149.90" y2="732.90" stroke="#111" stroke-width="1.1"/>
<text x="146.90" y="744.80" font-size="9.8" fill="#231f20" stroke="#231f20" stroke-width="0.2" textLength="6.00" lengthAdjust="spacingAndGlyphs">2</text>
<line x1="182.10" y1="728.40" x2="182.10" y2="732.90" stroke="#111" stroke-width="1.1"/>
<text x="179.10" y="744.80" font-size="9.8" fill="#231f20" stroke="#231f20" stroke-width="0.2" textLength="6.00" lengthAdjust="spacingAndGlyphs">3</text>
<line x1="214.30" y1="728.40" x2="214.30" y2="732.90" stroke="#111" stroke-width="1.1"/>
<text x="211.30" y="744.80" font-size="9.8" fill="#231f20" stroke="#231f20" stroke-width="0.2" textLength="6.00" lengthAdjust="spacingAndGlyphs">4</text>
<line x1="316.60" y1="638.10" x2="316.60" y2="728.60" stroke="#111" stroke-width="1.6"/>
<line x1="315.80" y1="727.80" x2="457.40" y2="727.80" stroke="#111" stroke-width="1.6"/>
<line x1="312.30" y1="725.00" x2="316.60" y2="725.00" stroke="#111" stroke-width="1.1"/>
<text x="293.67" y="728.35" font-size="10.3" fill="#231f20" stroke="#231f20" stroke-width="0.2" textLength="14.75" lengthAdjust="spacingAndGlyphs">0.0</text>
<line x1="312.30" y1="708.38" x2="316.60" y2="708.38" stroke="#111" stroke-width="1.1"/>
<text x="293.79" y="711.73" font-size="10.3" fill="#231f20" stroke="#231f20" stroke-width="0.2" textLength="14.75" lengthAdjust="spacingAndGlyphs">0.2</text>
<line x1="312.30" y1="691.76" x2="316.60" y2="691.76" stroke="#111" stroke-width="1.1"/>
<text x="293.56" y="695.11" font-size="10.3" fill="#231f20" stroke="#231f20" stroke-width="0.2" textLength="14.75" lengthAdjust="spacingAndGlyphs">0.4</text>
<line x1="312.30" y1="675.14" x2="316.60" y2="675.14" stroke="#111" stroke-width="1.1"/>
<text x="293.72" y="678.49" font-size="10.3" fill="#231f20" stroke="#231f20" stroke-width="0.2" textLength="14.75" lengthAdjust="spacingAndGlyphs">0.6</text>
<line x1="312.30" y1="658.52" x2="316.60" y2="658.52" stroke="#111" stroke-width="1.1"/>
<text x="293.71" y="661.87" font-size="10.3" fill="#231f20" stroke="#231f20" stroke-width="0.2" textLength="14.75" lengthAdjust="spacingAndGlyphs">0.8</text>
<line x1="312.30" y1="641.90" x2="316.60" y2="641.90" stroke="#111" stroke-width="1.1"/>
<text x="293.67" y="645.25" font-size="10.3" fill="#231f20" stroke="#231f20" stroke-width="0.2" textLength="14.75" lengthAdjust="spacingAndGlyphs"> .0</text>
<path transform="translate(293.67,645.25) scale(0.00518,-0.00503)" d="M515,0L515,1237L197,1010L197,1180L530,1409L696,1409L696,0Z" fill="#231f20" stroke="#231f20" stroke-width="39.8"/>
<line x1="322.20" y1="727.80" x2="322.20" y2="732.30" stroke="#111" stroke-width="1.1"/>
<text x="319.20" y="744.20" font-size="9.8" fill="#231f20" stroke="#231f20" stroke-width="0.2" textLength="6.00" lengthAdjust="spacingAndGlyphs">0</text>
<line x1="354.70" y1="727.80" x2="354.70" y2="732.30" stroke="#111" stroke-width="1.1"/>
<text x="351.70" y="744.20" font-size="9.8" fill="#231f20" stroke="#231f20" stroke-width="0.2" textLength="6.00" lengthAdjust="spacingAndGlyphs"> </text>
<path transform="translate(351.70,744.20) scale(0.00526,-0.00479)" d="M515,0L515,1237L197,1010L197,1180L530,1409L696,1409L696,0Z" fill="#231f20" stroke="#231f20" stroke-width="41.8"/>
<line x1="387.20" y1="727.80" x2="387.20" y2="732.30" stroke="#111" stroke-width="1.1"/>
<text x="384.20" y="744.20" font-size="9.8" fill="#231f20" stroke="#231f20" stroke-width="0.2" textLength="6.00" lengthAdjust="spacingAndGlyphs">2</text>
<line x1="419.70" y1="727.80" x2="419.70" y2="732.30" stroke="#111" stroke-width="1.1"/>
<text x="416.70" y="744.20" font-size="9.8" fill="#231f20" stroke="#231f20" stroke-width="0.2" textLength="6.00" lengthAdjust="spacingAndGlyphs">3</text>
<line x1="452.20" y1="727.80" x2="452.20" y2="732.30" stroke="#111" stroke-width="1.1"/>
<text x="449.20" y="744.20" font-size="9.8" fill="#231f20" stroke="#231f20" stroke-width="0.2" textLength="6.00" lengthAdjust="spacingAndGlyphs">4</text>
<text x="83.94" y="425.20" font-size="10" fill="#231f20" stroke="#231f20" stroke-width="0.2" textLength="31.22" lengthAdjust="spacingAndGlyphs">(a) OS</text>
<text x="321.14" y="425.80" font-size="10" fill="#231f20" stroke="#231f20" stroke-width="0.2" textLength="36.52" lengthAdjust="spacingAndGlyphs">(b) PFS</text>
<text x="84.14" y="631.30" font-size="10" fill="#231f20" stroke="#231f20" stroke-width="0.2" textLength="48.88" lengthAdjust="spacingAndGlyphs">(c) Rel/PD</text>
<text x="320.84" y="631.20" font-size="10" fill="#231f20" stroke="#231f20" stroke-width="0.2" textLength="40.04" lengthAdjust="spacingAndGlyphs">(d) NRM</text>
<text transform="translate(96.82,556.00) scale(0.62,1)" x="0" y="0" font-size="12.6" fill="#231f20" stroke="#231f20" stroke-width="0.4" textLength="171.97" lengthAdjust="spacing">Time from allo-HCT (years)</text>
<text transform="translate(333.52,555.80) scale(0.62,1)" x="0" y="0" font-size="12.6" fill="#231f20" stroke="#231f20" stroke-width="0.4" textLength="174.15" lengthAdjust="spacing">Time from allo-HCT (years)</text>
<text transform="translate(96.92,761.70) scale(0.62,1)" x="0" y="0" font-size="12.6" fill="#231f20" stroke="#231f20" stroke-width="0.4" textLength="171.97" lengthAdjust="spacing">Time from allo-HCT (years)</text>
<text transform="translate(333.72,761.70) scale(0.62,1)" x="0" y="0" font-size="12.6" fill="#231f20" stroke="#231f20" stroke-width="0.4" textLength="171.97" lengthAdjust="spacing">Time from allo-HCT (years)</text>
<text transform="translate(48.80,497.74) rotate(-90) scale(0.62,1)" x="0" y="0" font-size="12.6" fill="#231f20" stroke="#231f20" stroke-width="0.4" textLength="67.31" lengthAdjust="spacing">Probability</text>
<text transform="translate(285.00,498.19) rotate(-90) scale(0.62,1)" x="0" y="0" font-size="12.6" fill="#231f20" stroke="#231f20" stroke-width="0.4" textLength="67.49" lengthAdjust="spacing">Probability</text>
<text transform="translate(49.20,725.05) rotate(-90) scale(0.62,1)" x="0" y="0" font-size="12.6" fill="#231f20" stroke="#231f20" stroke-width="0.4" textLength="135.37" lengthAdjust="spacing">Cumulative incidence</text>
<text transform="translate(285.40,725.25) rotate(-90) scale(0.62,1)" x="0" y="0" font-size="12.6" fill="#231f20" stroke="#231f20" stroke-width="0.4" textLength="135.37" lengthAdjust="spacing">Cumulative incidence</text>
<text x="180.99" y="518.70" font-size="10" font-style="italic" fill="#231f20" stroke="#231f20" stroke-width="0.2">P</text>
<rect x="190.30" y="514.60" width="6.50" height="1.1" fill="#8c8c8c"/>
<rect x="190.30" y="516.30" width="6.50" height="1.1" fill="#8c8c8c"/>
<text x="199.40" y="518.70" font-size="10" fill="#231f20" stroke="#231f20" stroke-width="0.2" textLength="19.88" lengthAdjust="spacingAndGlyphs">0.89</text>
<text x="416.19" y="518.90" font-size="10" font-style="italic" fill="#231f20" stroke="#231f20" stroke-width="0.2">P</text>
<rect x="425.50" y="514.80" width="6.50" height="1.1" fill="#8c8c8c"/>
<rect x="425.50" y="516.50" width="6.50" height="1.1" fill="#8c8c8c"/>
<text x="434.58" y="518.90" font-size="10" fill="#231f20" stroke="#231f20" stroke-width="0.2" textLength="20.84" lengthAdjust="spacingAndGlyphs">0.20</text>
<text x="180.49" y="724.40" font-size="10" font-style="italic" fill="#231f20" stroke="#231f20" stroke-width="0.2">P</text>
<rect x="189.80" y="720.30" width="6.50" height="1.1" fill="#8c8c8c"/>
<rect x="189.80" y="722.00" width="6.50" height="1.1" fill="#8c8c8c"/>
<text x="198.89" y="724.40" font-size="10" fill="#231f20" stroke="#231f20" stroke-width="0.2" textLength="20.21" lengthAdjust="spacingAndGlyphs">0.04</text>
<text x="418.99" y="724.70" font-size="10" font-style="italic" fill="#231f20" stroke="#231f20" stroke-width="0.2">P</text>
<rect x="428.30" y="720.60" width="6.50" height="1.1" fill="#8c8c8c"/>
<rect x="428.30" y="722.30" width="6.50" height="1.1" fill="#8c8c8c"/>
<text x="437.41" y="724.70" font-size="10" fill="#231f20" stroke="#231f20" stroke-width="0.2" textLength="19.29" lengthAdjust="spacingAndGlyphs">0.32</text>
<text x="423.00" y="421.90" font-size="9.5" fill="#c80a30" textLength="33.63" lengthAdjust="spacingAndGlyphs">Related</text>
<text x="475.07" y="421.90" font-size="9.5" fill="#c80a30" textLength="35.26" lengthAdjust="spacingAndGlyphs">(n =  4)</text>
<path transform="translate(495.66,421.90) scale(0.00496,-0.00464)" d="M515,0L515,1237L197,1010L197,1180L530,1409L696,1409L696,0Z" fill="#c80a30" stroke="#c80a30" stroke-width="43.1"/>
<text x="423.05" y="434.20" font-size="9.5" fill="#0a4f8c" textLength="42.18" lengthAdjust="spacingAndGlyphs">Unrelated</text>
<text x="475.07" y="434.20" font-size="9.5" fill="#0a4f8c" textLength="35.26" lengthAdjust="spacingAndGlyphs">(n = 26)</text>
<text x="423.24" y="446.10" font-size="9.5" fill="#22aa3e" textLength="15.45" lengthAdjust="spacingAndGlyphs">CB</text>
<text x="475.07" y="446.10" font-size="9.5" fill="#22aa3e" textLength="35.26" lengthAdjust="spacingAndGlyphs">(n = 30)</text>
<text x="422.96" y="457.80" font-size="9.5" fill="#561b74" textLength="26.67" lengthAdjust="spacingAndGlyphs">Haplo</text>
<text x="475.07" y="457.80" font-size="9.5" fill="#561b74" textLength="35.26" lengthAdjust="spacingAndGlyphs">(n = 20)</text>
<text x="30.91" y="566.90" font-size="9.8" fill="#231f20" textLength="62.37" lengthAdjust="spacingAndGlyphs">Number at risk</text>
<text x="31.02" y="577.50" font-size="8.8" fill="#c80a30" textLength="28.41" lengthAdjust="spacingAndGlyphs">Related</text>
<text x="75.31" y="577.50" font-size="8" fill="#231f20" stroke="#231f20" stroke-width="0.2" textLength="9.79" lengthAdjust="spacingAndGlyphs"> 4</text>
<path transform="translate(75.31,577.50) scale(0.00430,-0.00391)" d="M515,0L515,1237L197,1010L197,1180L530,1409L696,1409L696,0Z" fill="#231f20" stroke="#231f20" stroke-width="51.2"/>
<text x="112.85" y="577.50" font-size="8" fill="#231f20" stroke="#231f20" stroke-width="0.2" textLength="4.89" lengthAdjust="spacingAndGlyphs">7</text>
<text x="147.95" y="577.50" font-size="8" fill="#231f20" stroke="#231f20" stroke-width="0.2" textLength="4.89" lengthAdjust="spacingAndGlyphs">4</text>
<text x="183.05" y="577.50" font-size="8" fill="#231f20" stroke="#231f20" stroke-width="0.2" textLength="4.89" lengthAdjust="spacingAndGlyphs">2</text>
<text x="218.15" y="577.50" font-size="8" fill="#231f20" stroke="#231f20" stroke-width="0.2" textLength="4.89" lengthAdjust="spacingAndGlyphs">0</text>
<text x="31.05" y="587.70" font-size="8.8" fill="#0a4f8c" textLength="36.28" lengthAdjust="spacingAndGlyphs">Unrelated</text>
<text x="75.31" y="587.70" font-size="8" fill="#231f20" stroke="#231f20" stroke-width="0.2" textLength="9.79" lengthAdjust="spacingAndGlyphs">26</text>
<text x="110.41" y="587.70" font-size="8" fill="#231f20" stroke="#231f20" stroke-width="0.2" textLength="9.79" lengthAdjust="spacingAndGlyphs"> 6</text>
<path transform="translate(110.41,587.70) scale(0.00430,-0.00391)" d="M515,0L515,1237L197,1010L197,1180L530,1409L696,1409L696,0Z" fill="#231f20" stroke="#231f20" stroke-width="51.2"/>
<text x="145.51" y="587.70" font-size="8" fill="#231f20" stroke="#231f20" stroke-width="0.2" textLength="9.79" lengthAdjust="spacingAndGlyphs">  </text>
<path transform="translate(145.51,587.70) scale(0.00430,-0.00391)" d="M515,0L515,1237L197,1010L197,1180L530,1409L696,1409L696,0Z" fill="#231f20" stroke="#231f20" stroke-width="51.2"/>
<path transform="translate(150.40,587.70) scale(0.00430,-0.00391)" d="M515,0L515,1237L197,1010L197,1180L530,1409L696,1409L696,0Z" fill="#231f20" stroke="#231f20" stroke-width="51.2"/>
<text x="183.05" y="587.70" font-size="8" fill="#231f20" stroke="#231f20" stroke-width="0.2" textLength="4.89" lengthAdjust="spacingAndGlyphs">4</text>
<text x="218.15" y="587.70" font-size="8" fill="#231f20" stroke="#231f20" stroke-width="0.2" textLength="4.89" lengthAdjust="spacingAndGlyphs"> </text>
<path transform="translate(218.15,587.70) scale(0.00430,-0.00391)" d="M515,0L515,1237L197,1010L197,1180L530,1409L696,1409L696,0Z" fill="#231f20" stroke="#231f20" stroke-width="51.2"/>
<text x="31.22" y="598.10" font-size="8.8" fill="#22aa3e" textLength="13.07" lengthAdjust="spacingAndGlyphs">CB</text>
<text x="75.31" y="598.10" font-size="8" fill="#231f20" stroke="#231f20" stroke-width="0.2" textLength="9.79" lengthAdjust="spacingAndGlyphs">30</text>
<text x="110.41" y="598.10" font-size="8" fill="#231f20" stroke="#231f20" stroke-width="0.2" textLength="9.79" lengthAdjust="spacingAndGlyphs"> 4</text>
<path transform="translate(110.41,598.10) scale(0.00430,-0.00391)" d="M515,0L515,1237L197,1010L197,1180L530,1409L696,1409L696,0Z" fill="#231f20" stroke="#231f20" stroke-width="51.2"/>
<text x="145.51" y="598.10" font-size="8" fill="#231f20" stroke="#231f20" stroke-width="0.2" textLength="9.79" lengthAdjust="spacingAndGlyphs"> 3</text>
<path transform="translate(145.51,598.10) scale(0.00430,-0.00391)" d="M515,0L515,1237L197,1010L197,1180L530,1409L696,1409L696,0Z" fill="#231f20" stroke="#231f20" stroke-width="51.2"/>
<text x="183.05" y="598.10" font-size="8" fill="#231f20" stroke="#231f20" stroke-width="0.2" textLength="4.89" lengthAdjust="spacingAndGlyphs">6</text>
<text x="218.15" y="598.10" font-size="8" fill="#231f20" stroke="#231f20" stroke-width="0.2" textLength="4.89" lengthAdjust="spacingAndGlyphs">3</text>
<text x="30.98" y="608.60" font-size="8.8" fill="#561b74" textLength="22.78" lengthAdjust="spacingAndGlyphs">Haplo</text>
<text x="75.31" y="608.60" font-size="8" fill="#231f20" stroke="#231f20" stroke-width="0.2" textLength="9.79" lengthAdjust="spacingAndGlyphs">20</text>
<text x="110.41" y="608.60" font-size="8" fill="#231f20" stroke="#231f20" stroke-width="0.2" textLength="9.79" lengthAdjust="spacingAndGlyphs">  </text>
<path transform="translate(110.41,608.60) scale(0.00430,-0.00391)" d="M515,0L515,1237L197,1010L197,1180L530,1409L696,1409L696,0Z" fill="#231f20" stroke="#231f20" stroke-width="51.2"/>
<path transform="translate(115.30,608.60) scale(0.00430,-0.00391)" d="M515,0L515,1237L197,1010L197,1180L530,1409L696,1409L696,0Z" fill="#231f20" stroke="#231f20" stroke-width="51.2"/>
<text x="147.95" y="608.60" font-size="8" fill="#231f20" stroke="#231f20" stroke-width="0.2" textLength="4.89" lengthAdjust="spacingAndGlyphs">9</text>
<text x="183.05" y="608.60" font-size="8" fill="#231f20" stroke="#231f20" stroke-width="0.2" textLength="4.89" lengthAdjust="spacingAndGlyphs">2</text>
<text x="218.15" y="608.60" font-size="8" fill="#231f20" stroke="#231f20" stroke-width="0.2" textLength="4.89" lengthAdjust="spacingAndGlyphs">0</text>
<text x="267.91" y="566.90" font-size="9.8" fill="#231f20" textLength="62.37" lengthAdjust="spacingAndGlyphs">Number at risk</text>
<text x="268.02" y="577.50" font-size="8.8" fill="#c80a30" textLength="28.41" lengthAdjust="spacingAndGlyphs">Related</text>
<text x="311.71" y="577.50" font-size="8" fill="#231f20" stroke="#231f20" stroke-width="0.2" textLength="9.79" lengthAdjust="spacingAndGlyphs"> 4</text>
<path transform="translate(311.71,577.50) scale(0.00430,-0.00391)" d="M515,0L515,1237L197,1010L197,1180L530,1409L696,1409L696,0Z" fill="#231f20" stroke="#231f20" stroke-width="51.2"/>
<text x="349.15" y="577.50" font-size="8" fill="#231f20" stroke="#231f20" stroke-width="0.2" textLength="4.89" lengthAdjust="spacingAndGlyphs">5</text>
<text x="384.15" y="577.50" font-size="8" fill="#231f20" stroke="#231f20" stroke-width="0.2" textLength="4.89" lengthAdjust="spacingAndGlyphs">3</text>
<text x="419.15" y="577.50" font-size="8" fill="#231f20" stroke="#231f20" stroke-width="0.2" textLength="4.89" lengthAdjust="spacingAndGlyphs"> </text>
<path transform="translate(419.15,577.50) scale(0.00430,-0.00391)" d="M515,0L515,1237L197,1010L197,1180L530,1409L696,1409L696,0Z" fill="#231f20" stroke="#231f20" stroke-width="51.2"/>
<text x="454.15" y="577.50" font-size="8" fill="#231f20" stroke="#231f20" stroke-width="0.2" textLength="4.89" lengthAdjust="spacingAndGlyphs">0</text>
<text x="268.05" y="587.70" font-size="8.8" fill="#0a4f8c" textLength="36.28" lengthAdjust="spacingAndGlyphs">Unrelated</text>
<text x="311.71" y="587.70" font-size="8" fill="#231f20" stroke="#231f20" stroke-width="0.2" textLength="9.79" lengthAdjust="spacingAndGlyphs">26</text>
<text x="346.71" y="587.70" font-size="8" fill="#231f20" stroke="#231f20" stroke-width="0.2" textLength="9.79" lengthAdjust="spacingAndGlyphs"> 3</text>
<path transform="translate(346.71,587.70) scale(0.00430,-0.00391)" d="M515,0L515,1237L197,1010L197,1180L530,1409L696,1409L696,0Z" fill="#231f20" stroke="#231f20" stroke-width="51.2"/>
<text x="381.71" y="587.70" font-size="8" fill="#231f20" stroke="#231f20" stroke-width="0.2" textLength="9.79" lengthAdjust="spacingAndGlyphs">  </text>
<path transform="translate(381.71,587.70) scale(0.00430,-0.00391)" d="M515,0L515,1237L197,1010L197,1180L530,1409L696,1409L696,0Z" fill="#231f20" stroke="#231f20" stroke-width="51.2"/>
<path transform="translate(386.60,587.70) scale(0.00430,-0.00391)" d="M515,0L515,1237L197,1010L197,1180L530,1409L696,1409L696,0Z" fill="#231f20" stroke="#231f20" stroke-width="51.2"/>
<text x="419.15" y="587.70" font-size="8" fill="#231f20" stroke="#231f20" stroke-width="0.2" textLength="4.89" lengthAdjust="spacingAndGlyphs">4</text>
<text x="454.15" y="587.70" font-size="8" fill="#231f20" stroke="#231f20" stroke-width="0.2" textLength="4.89" lengthAdjust="spacingAndGlyphs"> </text>
<path transform="translate(454.15,587.70) scale(0.00430,-0.00391)" d="M515,0L515,1237L197,1010L197,1180L530,1409L696,1409L696,0Z" fill="#231f20" stroke="#231f20" stroke-width="51.2"/>
<text x="268.22" y="598.10" font-size="8.8" fill="#22aa3e" textLength="13.07" lengthAdjust="spacingAndGlyphs">CB</text>
<text x="311.71" y="598.10" font-size="8" fill="#231f20" stroke="#231f20" stroke-width="0.2" textLength="9.79" lengthAdjust="spacingAndGlyphs">30</text>
<text x="349.15" y="598.10" font-size="8" fill="#231f20" stroke="#231f20" stroke-width="0.2" textLength="4.89" lengthAdjust="spacingAndGlyphs">7</text>
<text x="384.15" y="598.10" font-size="8" fill="#231f20" stroke="#231f20" stroke-width="0.2" textLength="4.89" lengthAdjust="spacingAndGlyphs">7</text>
<text x="419.15" y="598.10" font-size="8" fill="#231f20" stroke="#231f20" stroke-width="0.2" textLength="4.89" lengthAdjust="spacingAndGlyphs">3</text>
<text x="454.15" y="598.10" font-size="8" fill="#231f20" stroke="#231f20" stroke-width="0.2" textLength="4.89" lengthAdjust="spacingAndGlyphs">2</text>
<text x="267.98" y="608.60" font-size="8.8" fill="#561b74" textLength="22.78" lengthAdjust="spacingAndGlyphs">Haplo</text>
<text x="311.71" y="608.60" font-size="8" fill="#231f20" stroke="#231f20" stroke-width="0.2" textLength="9.79" lengthAdjust="spacingAndGlyphs">20</text>
<text x="349.15" y="608.60" font-size="8" fill="#231f20" stroke="#231f20" stroke-width="0.2" textLength="4.89" lengthAdjust="spacingAndGlyphs">8</text>
<text x="384.15" y="608.60" font-size="8" fill="#231f20" stroke="#231f20" stroke-width="0.2" textLength="4.89" lengthAdjust="spacingAndGlyphs">6</text>
<text x="419.15" y="608.60" font-size="8" fill="#231f20" stroke="#231f20" stroke-width="0.2" textLength="4.89" lengthAdjust="spacingAndGlyphs">0</text>
<text x="454.15" y="608.60" font-size="8" fill="#231f20" stroke="#231f20" stroke-width="0.2" textLength="4.89" lengthAdjust="spacingAndGlyphs">0</text>
<text x="30.91" y="772.70" font-size="9.8" fill="#231f20" textLength="62.37" lengthAdjust="spacingAndGlyphs">Number at risk</text>
<text x="31.02" y="782.90" font-size="8.8" fill="#c80a30" textLength="28.41" lengthAdjust="spacingAndGlyphs">Related</text>
<text x="80.61" y="782.90" font-size="8" fill="#231f20" stroke="#231f20" stroke-width="0.2" textLength="9.79" lengthAdjust="spacingAndGlyphs"> 4</text>
<path transform="translate(80.61,782.90) scale(0.00430,-0.00391)" d="M515,0L515,1237L197,1010L197,1180L530,1409L696,1409L696,0Z" fill="#231f20" stroke="#231f20" stroke-width="51.2"/>
<text x="115.25" y="782.90" font-size="8" fill="#231f20" stroke="#231f20" stroke-width="0.2" textLength="4.89" lengthAdjust="spacingAndGlyphs">5</text>
<text x="147.45" y="782.90" font-size="8" fill="#231f20" stroke="#231f20" stroke-width="0.2" textLength="4.89" lengthAdjust="spacingAndGlyphs">3</text>
<text x="179.65" y="782.90" font-size="8" fill="#231f20" stroke="#231f20" stroke-width="0.2" textLength="4.89" lengthAdjust="spacingAndGlyphs"> </text>
<path transform="translate(179.65,782.90) scale(0.00430,-0.00391)" d="M515,0L515,1237L197,1010L197,1180L530,1409L696,1409L696,0Z" fill="#231f20" stroke="#231f20" stroke-width="51.2"/>
<text x="211.85" y="782.90" font-size="8" fill="#231f20" stroke="#231f20" stroke-width="0.2" textLength="4.89" lengthAdjust="spacingAndGlyphs">0</text>
<text x="31.05" y="793.60" font-size="8.8" fill="#0a4f8c" textLength="36.28" lengthAdjust="spacingAndGlyphs">Unrelated</text>
<text x="80.61" y="793.60" font-size="8" fill="#231f20" stroke="#231f20" stroke-width="0.2" textLength="9.79" lengthAdjust="spacingAndGlyphs">26</text>
<text x="112.81" y="793.60" font-size="8" fill="#231f20" stroke="#231f20" stroke-width="0.2" textLength="9.79" lengthAdjust="spacingAndGlyphs"> 3</text>
<path transform="translate(112.81,793.60) scale(0.00430,-0.00391)" d="M515,0L515,1237L197,1010L197,1180L530,1409L696,1409L696,0Z" fill="#231f20" stroke="#231f20" stroke-width="51.2"/>
<text x="145.01" y="793.60" font-size="8" fill="#231f20" stroke="#231f20" stroke-width="0.2" textLength="9.79" lengthAdjust="spacingAndGlyphs">  </text>
<path transform="translate(145.01,793.60) scale(0.00430,-0.00391)" d="M515,0L515,1237L197,1010L197,1180L530,1409L696,1409L696,0Z" fill="#231f20" stroke="#231f20" stroke-width="51.2"/>
<path transform="translate(149.90,793.60) scale(0.00430,-0.00391)" d="M515,0L515,1237L197,1010L197,1180L530,1409L696,1409L696,0Z" fill="#231f20" stroke="#231f20" stroke-width="51.2"/>
<text x="179.65" y="793.60" font-size="8" fill="#231f20" stroke="#231f20" stroke-width="0.2" textLength="4.89" lengthAdjust="spacingAndGlyphs">4</text>
<text x="211.85" y="793.60" font-size="8" fill="#231f20" stroke="#231f20" stroke-width="0.2" textLength="4.89" lengthAdjust="spacingAndGlyphs"> </text>
<path transform="translate(211.85,793.60) scale(0.00430,-0.00391)" d="M515,0L515,1237L197,1010L197,1180L530,1409L696,1409L696,0Z" fill="#231f20" stroke="#231f20" stroke-width="51.2"/>
<text x="31.22" y="804.00" font-size="8.8" fill="#22aa3e" textLength="13.07" lengthAdjust="spacingAndGlyphs">CB</text>
<text x="80.61" y="804.00" font-size="8" fill="#231f20" stroke="#231f20" stroke-width="0.2" textLength="9.79" lengthAdjust="spacingAndGlyphs">30</text>
<text x="115.25" y="804.00" font-size="8" fill="#231f20" stroke="#231f20" stroke-width="0.2" textLength="4.89" lengthAdjust="spacingAndGlyphs">7</text>
<text x="147.45" y="804.00" font-size="8" fill="#231f20" stroke="#231f20" stroke-width="0.2" textLength="4.89" lengthAdjust="spacingAndGlyphs">7</text>
<text x="179.65" y="804.00" font-size="8" fill="#231f20" stroke="#231f20" stroke-width="0.2" textLength="4.89" lengthAdjust="spacingAndGlyphs">3</text>
<text x="211.85" y="804.00" font-size="8" fill="#231f20" stroke="#231f20" stroke-width="0.2" textLength="4.89" lengthAdjust="spacingAndGlyphs">2</text>
<text x="30.98" y="814.10" font-size="8.8" fill="#561b74" textLength="22.78" lengthAdjust="spacingAndGlyphs">Haplo</text>
<text x="80.61" y="814.10" font-size="8" fill="#231f20" stroke="#231f20" stroke-width="0.2" textLength="9.79" lengthAdjust="spacingAndGlyphs">20</text>
<text x="115.25" y="814.10" font-size="8" fill="#231f20" stroke="#231f20" stroke-width="0.2" textLength="4.89" lengthAdjust="spacingAndGlyphs">8</text>
<text x="147.45" y="814.10" font-size="8" fill="#231f20" stroke="#231f20" stroke-width="0.2" textLength="4.89" lengthAdjust="spacingAndGlyphs">6</text>
<text x="179.65" y="814.10" font-size="8" fill="#231f20" stroke="#231f20" stroke-width="0.2" textLength="4.89" lengthAdjust="spacingAndGlyphs">0</text>
<text x="211.85" y="814.10" font-size="8" fill="#231f20" stroke="#231f20" stroke-width="0.2" textLength="4.89" lengthAdjust="spacingAndGlyphs">0</text>
<text x="268.11" y="772.70" font-size="9.8" fill="#231f20" textLength="62.37" lengthAdjust="spacingAndGlyphs">Number at risk</text>
<text x="268.22" y="782.90" font-size="8.8" fill="#c80a30" textLength="28.41" lengthAdjust="spacingAndGlyphs">Related</text>
<text x="317.31" y="782.90" font-size="8" fill="#231f20" stroke="#231f20" stroke-width="0.2" textLength="9.79" lengthAdjust="spacingAndGlyphs"> 4</text>
<path transform="translate(317.31,782.90) scale(0.00430,-0.00391)" d="M515,0L515,1237L197,1010L197,1180L530,1409L696,1409L696,0Z" fill="#231f20" stroke="#231f20" stroke-width="51.2"/>
<text x="352.25" y="782.90" font-size="8" fill="#231f20" stroke="#231f20" stroke-width="0.2" textLength="4.89" lengthAdjust="spacingAndGlyphs">5</text>
<text x="384.75" y="782.90" font-size="8" fill="#231f20" stroke="#231f20" stroke-width="0.2" textLength="4.89" lengthAdjust="spacingAndGlyphs">3</text>
<text x="417.25" y="782.90" font-size="8" fill="#231f20" stroke="#231f20" stroke-width="0.2" textLength="4.89" lengthAdjust="spacingAndGlyphs"> </text>
<path transform="translate(417.25,782.90) scale(0.00430,-0.00391)" d="M515,0L515,1237L197,1010L197,1180L530,1409L696,1409L696,0Z" fill="#231f20" stroke="#231f20" stroke-width="51.2"/>
<text x="449.75" y="782.90" font-size="8" fill="#231f20" stroke="#231f20" stroke-width="0.2" textLength="4.89" lengthAdjust="spacingAndGlyphs">0</text>
<text x="268.25" y="793.60" font-size="8.8" fill="#0a4f8c" textLength="36.28" lengthAdjust="spacingAndGlyphs">Unrelated</text>
<text x="317.31" y="793.60" font-size="8" fill="#231f20" stroke="#231f20" stroke-width="0.2" textLength="9.79" lengthAdjust="spacingAndGlyphs">26</text>
<text x="349.81" y="793.60" font-size="8" fill="#231f20" stroke="#231f20" stroke-width="0.2" textLength="9.79" lengthAdjust="spacingAndGlyphs"> 3</text>
<path transform="translate(349.81,793.60) scale(0.00430,-0.00391)" d="M515,0L515,1237L197,1010L197,1180L530,1409L696,1409L696,0Z" fill="#231f20" stroke="#231f20" stroke-width="51.2"/>
<text x="382.31" y="793.60" font-size="8" fill="#231f20" stroke="#231f20" stroke-width="0.2" textLength="9.79" lengthAdjust="spacingAndGlyphs">  </text>
<path transform="translate(382.31,793.60) scale(0.00430,-0.00391)" d="M515,0L515,1237L197,1010L197,1180L530,1409L696,1409L696,0Z" fill="#231f20" stroke="#231f20" stroke-width="51.2"/>
<path transform="translate(387.20,793.60) scale(0.00430,-0.00391)" d="M515,0L515,1237L197,1010L197,1180L530,1409L696,1409L696,0Z" fill="#231f20" stroke="#231f20" stroke-width="51.2"/>
<text x="417.25" y="793.60" font-size="8" fill="#231f20" stroke="#231f20" stroke-width="0.2" textLength="4.89" lengthAdjust="spacingAndGlyphs">4</text>
<text x="449.75" y="793.60" font-size="8" fill="#231f20" stroke="#231f20" stroke-width="0.2" textLength="4.89" lengthAdjust="spacingAndGlyphs"> </text>
<path transform="translate(449.75,793.60) scale(0.00430,-0.00391)" d="M515,0L515,1237L197,1010L197,1180L530,1409L696,1409L696,0Z" fill="#231f20" stroke="#231f20" stroke-width="51.2"/>
<text x="268.42" y="804.00" font-size="8.8" fill="#22aa3e" textLength="13.07" lengthAdjust="spacingAndGlyphs">CB</text>
<text x="317.31" y="804.00" font-size="8" fill="#231f20" stroke="#231f20" stroke-width="0.2" textLength="9.79" lengthAdjust="spacingAndGlyphs">30</text>
<text x="352.25" y="804.00" font-size="8" fill="#231f20" stroke="#231f20" stroke-width="0.2" textLength="4.89" lengthAdjust="spacingAndGlyphs">7</text>
<text x="384.75" y="804.00" font-size="8" fill="#231f20" stroke="#231f20" stroke-width="0.2" textLength="4.89" lengthAdjust="spacingAndGlyphs">7</text>
<text x="417.25" y="804.00" font-size="8" fill="#231f20" stroke="#231f20" stroke-width="0.2" textLength="4.89" lengthAdjust="spacingAndGlyphs">3</text>
<text x="449.75" y="804.00" font-size="8" fill="#231f20" stroke="#231f20" stroke-width="0.2" textLength="4.89" lengthAdjust="spacingAndGlyphs">2</text>
<text x="268.18" y="814.10" font-size="8.8" fill="#561b74" textLength="22.78" lengthAdjust="spacingAndGlyphs">Haplo</text>
<text x="317.31" y="814.10" font-size="8" fill="#231f20" stroke="#231f20" stroke-width="0.2" textLength="9.79" lengthAdjust="spacingAndGlyphs">20</text>
<text x="352.25" y="814.10" font-size="8" fill="#231f20" stroke="#231f20" stroke-width="0.2" textLength="4.89" lengthAdjust="spacingAndGlyphs">8</text>
<text x="384.75" y="814.10" font-size="8" fill="#231f20" stroke="#231f20" stroke-width="0.2" textLength="4.89" lengthAdjust="spacingAndGlyphs">6</text>
<text x="417.25" y="814.10" font-size="8" fill="#231f20" stroke="#231f20" stroke-width="0.2" textLength="4.89" lengthAdjust="spacingAndGlyphs">0</text>
<text x="449.75" y="814.10" font-size="8" fill="#231f20" stroke="#231f20" stroke-width="0.2" textLength="4.89" lengthAdjust="spacingAndGlyphs">0</text>
<polyline points="80.00,435.80 82.50,435.80 82.50,441.70 83.80,441.70 83.80,448.00 95.30,448.00 95.30,454.20 98.40,454.20 98.40,465.40 102.60,465.40 102.60,471.20 113.40,471.20 113.40,476.90 117.30,476.90 117.30,482.70 126.50,482.70 126.50,489.60 149.60,489.60 149.60,495.40 212.30,495.40" fill="none" stroke="#c80a30" stroke-width="1.7" stroke-linejoin="miter" stroke-linecap="butt"/>
<polyline points="80.00,435.80 81.50,435.80 81.50,441.50 84.50,441.50 84.50,455.40 89.50,455.40 89.50,459.20 106.10,459.20 106.10,461.50 114.20,461.50 114.20,467.70 126.00,467.70 126.00,471.20 130.60,471.20 130.60,476.30 138.10,476.30 138.10,479.80 149.60,479.80 149.60,481.50 155.40,481.50 155.40,484.20 170.80,484.20 170.80,489.60 221.00,489.60" fill="none" stroke="#0a4f8c" stroke-width="1.7" stroke-linejoin="miter" stroke-linecap="butt"/>
<polyline points="80.00,435.80 86.50,435.80 86.50,440.00 89.50,440.00 89.50,444.20 91.50,444.20 91.50,448.50 92.50,448.50 92.50,461.20 104.90,461.20 104.90,465.40 108.80,465.40 108.80,469.60 111.80,469.60 111.80,472.90 139.20,472.90 139.20,476.90 155.40,476.90 155.40,482.70 212.30,482.70" fill="none" stroke="#561b74" stroke-width="1.7" stroke-linejoin="miter" stroke-linecap="butt"/>
<polyline points="80.20,435.80 81.50,435.80 81.50,438.50 82.60,438.50 82.60,440.00 83.40,440.00 83.40,443.80 84.20,443.80 84.20,446.90 85.70,446.90 85.70,450.00 87.20,450.00 87.20,452.30 90.30,452.30 90.30,453.10 91.80,453.10 91.80,456.20 93.00,456.20 93.00,463.10 93.80,463.10 93.80,467.70 96.10,467.70 96.10,469.20 96.50,469.20 96.50,472.30 100.30,472.30 100.30,472.70 101.10,472.70 101.10,476.20 103.40,476.20 103.40,476.90 103.80,476.90 103.80,479.60 181.70,479.60 181.70,483.80 221.00,483.80" fill="none" stroke="#22aa3e" stroke-width="1.7" stroke-linejoin="miter" stroke-linecap="butt"/>
<line x1="157.70" y1="492.80" x2="157.70" y2="498.00" stroke="#c80a30" stroke-width="1.2"/>
<line x1="167.90" y1="492.80" x2="167.90" y2="498.00" stroke="#c80a30" stroke-width="1.2"/>
<line x1="198.50" y1="492.80" x2="198.50" y2="498.00" stroke="#c80a30" stroke-width="1.2"/>
<line x1="209.40" y1="492.80" x2="209.40" y2="498.00" stroke="#c80a30" stroke-width="1.2"/>
<line x1="138.10" y1="477.20" x2="138.10" y2="482.40" stroke="#0a4f8c" stroke-width="1.2"/>
<line x1="146.20" y1="477.20" x2="146.20" y2="482.40" stroke="#0a4f8c" stroke-width="1.2"/>
<line x1="161.70" y1="481.60" x2="161.70" y2="486.80" stroke="#0a4f8c" stroke-width="1.2"/>
<line x1="165.80" y1="481.60" x2="165.80" y2="486.80" stroke="#0a4f8c" stroke-width="1.2"/>
<line x1="170.40" y1="481.60" x2="170.40" y2="486.80" stroke="#0a4f8c" stroke-width="1.2"/>
<line x1="207.10" y1="487.00" x2="207.10" y2="492.20" stroke="#0a4f8c" stroke-width="1.2"/>
<line x1="211.20" y1="487.00" x2="211.20" y2="492.20" stroke="#0a4f8c" stroke-width="1.2"/>
<line x1="221.00" y1="487.00" x2="221.00" y2="492.20" stroke="#0a4f8c" stroke-width="1.2"/>
<line x1="147.30" y1="474.30" x2="147.30" y2="479.50" stroke="#561b74" stroke-width="1.2"/>
<line x1="151.90" y1="474.30" x2="151.90" y2="479.50" stroke="#561b74" stroke-width="1.2"/>
<line x1="163.50" y1="480.10" x2="163.50" y2="485.30" stroke="#561b74" stroke-width="1.2"/>
<line x1="168.70" y1="480.10" x2="168.70" y2="485.30" stroke="#561b74" stroke-width="1.2"/>
<line x1="182.30" y1="480.10" x2="182.30" y2="485.30" stroke="#561b74" stroke-width="1.2"/>
<line x1="183.50" y1="480.10" x2="183.50" y2="485.30" stroke="#561b74" stroke-width="1.2"/>
<line x1="195.60" y1="480.10" x2="195.60" y2="485.30" stroke="#561b74" stroke-width="1.2"/>
<line x1="209.40" y1="480.10" x2="209.40" y2="485.30" stroke="#561b74" stroke-width="1.2"/>
<line x1="150.80" y1="477.00" x2="150.80" y2="482.20" stroke="#22aa3e" stroke-width="1.2"/>
<line x1="167.30" y1="477.00" x2="167.30" y2="482.20" stroke="#22aa3e" stroke-width="1.2"/>
<line x1="179.80" y1="477.00" x2="179.80" y2="482.20" stroke="#22aa3e" stroke-width="1.2"/>
<line x1="189.80" y1="481.20" x2="189.80" y2="486.40" stroke="#22aa3e" stroke-width="1.2"/>
<line x1="203.70" y1="481.20" x2="203.70" y2="486.40" stroke="#22aa3e" stroke-width="1.2"/>
<line x1="211.70" y1="481.20" x2="211.70" y2="486.40" stroke="#22aa3e" stroke-width="1.2"/>
<polyline points="316.60,436.20 320.80,436.20 320.80,440.20 322.20,440.20 322.20,447.30 323.60,447.30 323.60,451.00 324.50,451.00 324.50,457.60 326.30,457.60 326.30,465.30 327.90,465.30 327.90,471.50 330.10,471.50 330.10,476.20 331.60,476.20 331.60,480.50 333.00,480.50 333.00,484.00 334.40,484.00 334.40,489.10 363.30,489.10 363.30,495.50 387.00,495.50 387.00,500.80 446.50,500.80" fill="none" stroke="#c80a30" stroke-width="1.7" stroke-linejoin="miter" stroke-linecap="butt"/>
<polyline points="316.60,436.20 320.80,436.20 320.80,440.20 322.00,440.20 322.00,455.00 326.20,455.00 326.20,461.20 335.30,461.20 335.30,467.60 342.80,467.60 342.80,471.00 350.70,471.00 350.70,477.00 354.20,477.00 354.20,480.60 381.50,480.60 381.50,483.10 393.40,483.10 393.40,486.20 406.50,486.20 406.50,492.30 456.50,492.30" fill="none" stroke="#0a4f8c" stroke-width="1.7" stroke-linejoin="miter" stroke-linecap="butt"/>
<polyline points="316.60,435.60 320.80,435.60 320.80,440.20 322.20,440.20 322.20,452.30 324.30,452.30 324.30,455.40 327.80,455.40 327.80,460.90 330.60,460.90 330.60,468.00 335.20,468.00 335.20,476.30 340.80,476.30 340.80,480.80 343.80,480.80 343.80,485.80 370.00,485.80 370.00,489.70 422.70,489.70" fill="none" stroke="#561b74" stroke-width="1.7" stroke-linejoin="miter" stroke-linecap="butt"/>
<polyline points="316.40,435.80 318.20,438.50 319.30,445.40 319.70,453.10 320.50,459.20 321.60,466.20 322.80,470.00 323.90,473.10 325.10,479.20 326.50,485.40 329.60,488.50 330.40,493.10 331.90,496.90 333.50,499.70 456.50,499.70" fill="none" stroke="#22aa3e" stroke-width="1.7" stroke-linejoin="miter" stroke-linecap="butt"/>
<line x1="394.20" y1="498.20" x2="394.20" y2="503.40" stroke="#c80a30" stroke-width="1.2"/>
<line x1="445.00" y1="498.20" x2="445.00" y2="503.40" stroke="#c80a30" stroke-width="1.2"/>
<line x1="387.40" y1="480.50" x2="387.40" y2="485.70" stroke="#0a4f8c" stroke-width="1.2"/>
<line x1="398.30" y1="483.60" x2="398.30" y2="488.80" stroke="#0a4f8c" stroke-width="1.2"/>
<line x1="401.20" y1="483.60" x2="401.20" y2="488.80" stroke="#0a4f8c" stroke-width="1.2"/>
<line x1="405.80" y1="483.60" x2="405.80" y2="488.80" stroke="#0a4f8c" stroke-width="1.2"/>
<line x1="442.70" y1="489.70" x2="442.70" y2="494.90" stroke="#0a4f8c" stroke-width="1.2"/>
<line x1="447.30" y1="489.70" x2="447.30" y2="494.90" stroke="#0a4f8c" stroke-width="1.2"/>
<line x1="456.50" y1="489.70" x2="456.50" y2="494.90" stroke="#0a4f8c" stroke-width="1.2"/>
<line x1="383.80" y1="487.10" x2="383.80" y2="492.30" stroke="#561b74" stroke-width="1.2"/>
<line x1="387.90" y1="487.10" x2="387.90" y2="492.30" stroke="#561b74" stroke-width="1.2"/>
<line x1="393.40" y1="487.10" x2="393.40" y2="492.30" stroke="#561b74" stroke-width="1.2"/>
<line x1="403.50" y1="487.10" x2="403.50" y2="492.30" stroke="#561b74" stroke-width="1.2"/>
<line x1="418.10" y1="487.10" x2="418.10" y2="492.30" stroke="#561b74" stroke-width="1.2"/>
<line x1="420.40" y1="487.10" x2="420.40" y2="492.30" stroke="#561b74" stroke-width="1.2"/>
<line x1="403.50" y1="497.10" x2="403.50" y2="502.30" stroke="#22aa3e" stroke-width="1.2"/>
<line x1="416.50" y1="497.10" x2="416.50" y2="502.30" stroke="#22aa3e" stroke-width="1.2"/>
<line x1="420.40" y1="497.10" x2="420.40" y2="502.30" stroke="#22aa3e" stroke-width="1.2"/>
<line x1="447.30" y1="497.10" x2="447.30" y2="502.30" stroke="#22aa3e" stroke-width="1.2"/>
<polyline points="85.80,725.00 85.80,718.80 86.70,718.80 88.70,718.80 88.70,709.20 90.60,709.20 92.50,709.20 92.50,702.50 94.40,702.50 94.40,699.60 96.30,699.60 96.30,694.80 99.20,694.80 99.20,689.80 207.70,689.80" fill="none" stroke="#c80a30" stroke-width="1.7" stroke-linejoin="miter" stroke-linecap="butt"/>
<polyline points="85.80,725.00 85.80,719.80 86.70,719.80 86.70,715.00 87.70,715.00 90.60,715.00 90.60,712.10 94.40,712.10 94.40,709.20 99.20,709.20 99.20,706.30 104.00,706.30 104.00,702.50 119.40,702.50 119.40,699.40 218.30,699.40" fill="none" stroke="#0a4f8c" stroke-width="1.7" stroke-linejoin="miter" stroke-linecap="butt"/>
<polyline points="85.80,725.00 88.70,725.00 88.70,719.80 90.60,719.80 90.60,712.10 94.40,712.10 94.40,708.30 98.30,708.30 98.30,703.50 103.10,703.50 103.10,695.60 135.60,695.60 135.60,691.70 182.70,691.70" fill="none" stroke="#561b74" stroke-width="1.7" stroke-linejoin="miter" stroke-linecap="butt"/>
<polyline points="85.80,725.00 85.80,719.80 86.70,719.80 86.70,715.00 87.70,715.00 87.70,709.20 88.70,709.20 88.70,703.50 89.60,703.50 89.60,699.60 90.60,699.60 90.60,695.80 91.50,695.80 91.50,691.00 92.50,691.00 92.50,687.10 94.40,687.10 94.40,684.20 95.40,684.20 95.40,681.30 97.30,681.30 97.30,678.50 98.30,678.50 98.30,675.60 100.20,675.60 100.20,672.60 101.20,672.60 220.20,672.60" fill="none" stroke="#22aa3e" stroke-width="1.7" stroke-linejoin="miter" stroke-linecap="butt"/>
<line x1="156.70" y1="687.20" x2="156.70" y2="692.40" stroke="#c80a30" stroke-width="1.2"/>
<line x1="166.90" y1="687.20" x2="166.90" y2="692.40" stroke="#c80a30" stroke-width="1.2"/>
<line x1="204.20" y1="687.20" x2="204.20" y2="692.40" stroke="#c80a30" stroke-width="1.2"/>
<line x1="151.00" y1="696.80" x2="151.00" y2="702.00" stroke="#0a4f8c" stroke-width="1.2"/>
<line x1="160.60" y1="696.80" x2="160.60" y2="702.00" stroke="#0a4f8c" stroke-width="1.2"/>
<line x1="164.40" y1="696.80" x2="164.40" y2="702.00" stroke="#0a4f8c" stroke-width="1.2"/>
<line x1="168.80" y1="696.80" x2="168.80" y2="702.00" stroke="#0a4f8c" stroke-width="1.2"/>
<line x1="201.50" y1="696.80" x2="201.50" y2="702.00" stroke="#0a4f8c" stroke-width="1.2"/>
<line x1="206.70" y1="696.80" x2="206.70" y2="702.00" stroke="#0a4f8c" stroke-width="1.2"/>
<line x1="215.80" y1="696.80" x2="215.80" y2="702.00" stroke="#0a4f8c" stroke-width="1.2"/>
<line x1="148.50" y1="689.10" x2="148.50" y2="694.30" stroke="#561b74" stroke-width="1.2"/>
<line x1="151.90" y1="689.10" x2="151.90" y2="694.30" stroke="#561b74" stroke-width="1.2"/>
<line x1="165.40" y1="689.10" x2="165.40" y2="694.30" stroke="#561b74" stroke-width="1.2"/>
<line x1="179.20" y1="689.10" x2="179.20" y2="694.30" stroke="#561b74" stroke-width="1.2"/>
<line x1="180.80" y1="689.10" x2="180.80" y2="694.30" stroke="#561b74" stroke-width="1.2"/>
<line x1="165.40" y1="670.00" x2="165.40" y2="675.20" stroke="#22aa3e" stroke-width="1.2"/>
<line x1="177.90" y1="670.00" x2="177.90" y2="675.20" stroke="#22aa3e" stroke-width="1.2"/>
<line x1="180.80" y1="670.00" x2="180.80" y2="675.20" stroke="#22aa3e" stroke-width="1.2"/>
<line x1="207.30" y1="670.00" x2="207.30" y2="675.20" stroke="#22aa3e" stroke-width="1.2"/>
<polyline points="322.00,725.00 322.00,720.00 324.00,720.00 324.00,718.10 326.00,718.10 338.80,718.10 338.80,707.30 365.00,707.30 365.00,700.60 385.70,700.60 385.70,695.10 441.00,695.10" fill="none" stroke="#c80a30" stroke-width="1.7" stroke-linejoin="miter" stroke-linecap="butt"/>
<polyline points="322.50,725.00 322.50,718.00 323.80,718.00 323.80,715.80 325.00,715.80 347.30,715.80 347.30,712.70 354.20,712.70 354.20,705.80 382.70,705.80 382.70,702.70 388.00,702.70 388.00,698.80 405.00,698.80 405.00,693.50 454.80,693.50" fill="none" stroke="#0a4f8c" stroke-width="1.7" stroke-linejoin="miter" stroke-linecap="butt"/>
<polyline points="322.60,725.00 328.40,725.00 328.40,721.50 328.40,718.10 330.00,718.10 333.00,718.10 333.00,711.90 344.20,711.90 344.20,709.60 348.80,709.60 348.80,704.80 420.20,704.80" fill="none" stroke="#561b74" stroke-width="1.7" stroke-linejoin="miter" stroke-linecap="butt"/>
<polyline points="322.00,724.40 322.00,721.00 323.20,721.00 323.20,717.50 324.30,717.50 324.30,715.80 325.50,715.80 334.20,715.80 334.20,713.40 457.40,713.40" fill="none" stroke="#22aa3e" stroke-width="1.7" stroke-linejoin="miter" stroke-linecap="butt"/>
<line x1="394.20" y1="692.50" x2="394.20" y2="697.70" stroke="#c80a30" stroke-width="1.2"/>
<line x1="441.00" y1="692.50" x2="441.00" y2="697.70" stroke="#c80a30" stroke-width="1.2"/>
<line x1="383.50" y1="700.10" x2="383.50" y2="705.30" stroke="#0a4f8c" stroke-width="1.2"/>
<line x1="388.10" y1="696.20" x2="388.10" y2="701.40" stroke="#0a4f8c" stroke-width="1.2"/>
<line x1="392.70" y1="696.20" x2="392.70" y2="701.40" stroke="#0a4f8c" stroke-width="1.2"/>
<line x1="401.20" y1="696.20" x2="401.20" y2="701.40" stroke="#0a4f8c" stroke-width="1.2"/>
<line x1="405.60" y1="690.90" x2="405.60" y2="696.10" stroke="#0a4f8c" stroke-width="1.2"/>
<line x1="439.20" y1="690.90" x2="439.20" y2="696.10" stroke="#0a4f8c" stroke-width="1.2"/>
<line x1="443.60" y1="690.90" x2="443.60" y2="696.10" stroke="#0a4f8c" stroke-width="1.2"/>
<line x1="453.90" y1="690.90" x2="453.90" y2="696.10" stroke="#0a4f8c" stroke-width="1.2"/>
<line x1="384.80" y1="702.20" x2="384.80" y2="707.40" stroke="#561b74" stroke-width="1.2"/>
<line x1="389.30" y1="702.20" x2="389.30" y2="707.40" stroke="#561b74" stroke-width="1.2"/>
<line x1="392.80" y1="702.20" x2="392.80" y2="707.40" stroke="#561b74" stroke-width="1.2"/>
<line x1="402.20" y1="702.20" x2="402.20" y2="707.40" stroke="#561b74" stroke-width="1.2"/>
<line x1="415.90" y1="702.20" x2="415.90" y2="707.40" stroke="#561b74" stroke-width="1.2"/>
<line x1="417.60" y1="702.20" x2="417.60" y2="707.40" stroke="#561b74" stroke-width="1.2"/>
<line x1="402.20" y1="710.80" x2="402.20" y2="716.00" stroke="#22aa3e" stroke-width="1.2"/>
<line x1="414.50" y1="710.80" x2="414.50" y2="716.00" stroke="#22aa3e" stroke-width="1.2"/>
<line x1="416.70" y1="710.80" x2="416.70" y2="716.00" stroke="#22aa3e" stroke-width="1.2"/>
<line x1="444.40" y1="710.80" x2="444.40" y2="716.00" stroke="#22aa3e" stroke-width="1.2"/>
<rect x="1" y="1" width="518" height="823" fill="none" stroke="#111" stroke-width="2"/>
</svg>
</body></html>
